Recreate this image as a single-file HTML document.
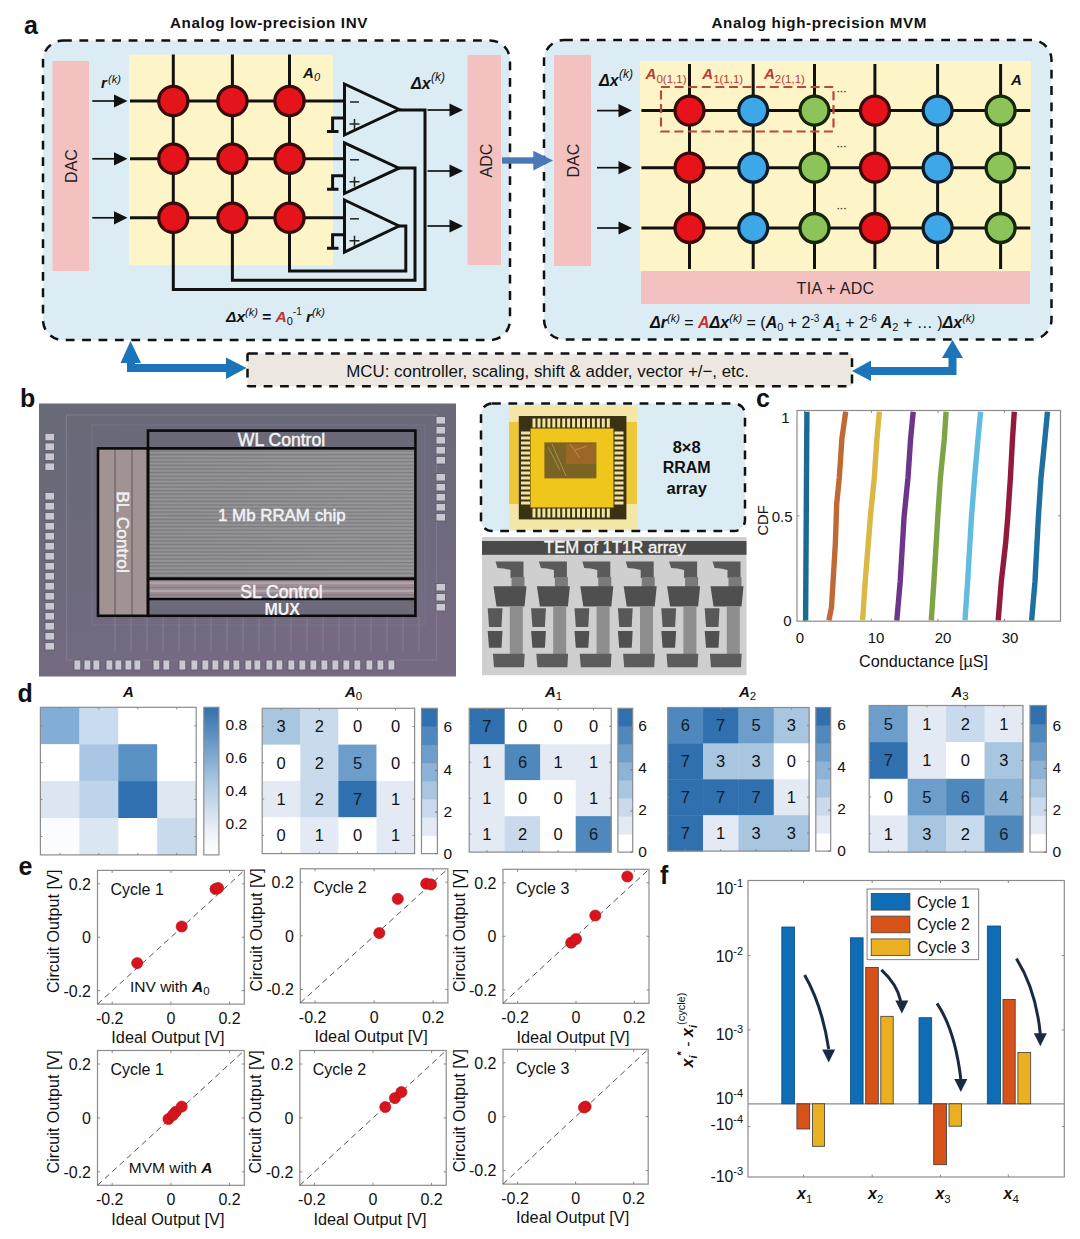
<!DOCTYPE html>
<html><head><meta charset="utf-8"><style>
html,body{margin:0;padding:0;background:#fff;width:1080px;height:1239px;overflow:hidden}
svg{display:block}
text{font-family:"Liberation Sans", sans-serif}
</style></head><body>
<svg width="1080" height="1239" viewBox="0 0 1080 1239">
<rect width="1080" height="1239" fill="#fff"/>
<text x="24" y="34" font-size="25" font-weight="bold" font-style="normal" fill="#111" text-anchor="start" >a</text>
<text x="170" y="28" font-size="15.2" font-weight="bold" font-style="normal" fill="#111" text-anchor="start" letter-spacing="0.62">Analog low-precision INV</text>
<text x="711.5" y="28" font-size="15.2" font-weight="bold" font-style="normal" fill="#111" text-anchor="start" letter-spacing="0.62">Analog high-precision MVM</text>
<rect x="43" y="40.5" width="467" height="299.5" rx="20" fill="#dcecf4" stroke="#111" stroke-width="2.5" stroke-dasharray="8.8 7.6"/>
<rect x="52.5" y="61" width="36.5" height="210" fill="#f4c1c1"/>
<text x="0" y="0" font-size="16" font-weight="normal" font-style="normal" fill="#222" text-anchor="middle" transform="translate(76.5,166) rotate(-90)">DAC</text>
<rect x="129" y="54.6" width="204" height="210.7" fill="#fdf5c8"/>
<rect x="467.5" y="55" width="33.5" height="210" fill="#f4c1c1"/>
<text x="0" y="0" font-size="16" font-weight="normal" font-style="normal" fill="#222" text-anchor="middle" transform="translate(491.5,160.6) rotate(-90)">ADC</text>
<line x1="130" y1="101" x2="345" y2="101" stroke="#111" stroke-width="3"/>
<line x1="130" y1="158.8" x2="345" y2="158.8" stroke="#111" stroke-width="3"/>
<line x1="130" y1="217.8" x2="345" y2="217.8" stroke="#111" stroke-width="3"/>
<polyline points="173.3,54.6 173.3,289.6 425,289.6 425,110 399,110" fill="none" stroke="#111" stroke-width="3"/>
<polyline points="232.4,54.6 232.4,280.3 415,280.3 415,168 399,168" fill="none" stroke="#111" stroke-width="3"/>
<polyline points="289.5,54.6 289.5,271 405.8,271 405.8,226 399,226" fill="none" stroke="#111" stroke-width="3"/>
<circle cx="173.3" cy="101" r="14.6" fill="#e5141b" stroke="#3a0a0a" stroke-width="3.3"/>
<circle cx="232.4" cy="101" r="14.6" fill="#e5141b" stroke="#3a0a0a" stroke-width="3.3"/>
<circle cx="289.5" cy="101" r="14.6" fill="#e5141b" stroke="#3a0a0a" stroke-width="3.3"/>
<circle cx="173.3" cy="158.8" r="14.6" fill="#e5141b" stroke="#3a0a0a" stroke-width="3.3"/>
<circle cx="232.4" cy="158.8" r="14.6" fill="#e5141b" stroke="#3a0a0a" stroke-width="3.3"/>
<circle cx="289.5" cy="158.8" r="14.6" fill="#e5141b" stroke="#3a0a0a" stroke-width="3.3"/>
<circle cx="173.3" cy="217.8" r="14.6" fill="#e5141b" stroke="#3a0a0a" stroke-width="3.3"/>
<circle cx="232.4" cy="217.8" r="14.6" fill="#e5141b" stroke="#3a0a0a" stroke-width="3.3"/>
<circle cx="289.5" cy="217.8" r="14.6" fill="#e5141b" stroke="#3a0a0a" stroke-width="3.3"/>
<polygon points="344.5,84 399,109.5 344.5,135" fill="none" stroke="#111" stroke-width="3" stroke-linejoin="miter"/>
<path d="M344.5,118 H332.6 V131.5 M327,131.5 H338.5" fill="none" stroke="#111" stroke-width="3"/>
<line x1="350" y1="102" x2="359" y2="102" stroke="#222" stroke-width="1.5"/>
<path d="M349.5,124 h10 M354.5,119 v10" stroke="#222" stroke-width="1.5"/>
<polygon points="344.5,142.8 399,168.15 344.5,193.5" fill="none" stroke="#111" stroke-width="3" stroke-linejoin="miter"/>
<path d="M344.5,175.8 H332.6 V189.3 M327,189.3 H338.5" fill="none" stroke="#111" stroke-width="3"/>
<line x1="350" y1="159.8" x2="359" y2="159.8" stroke="#222" stroke-width="1.5"/>
<path d="M349.5,181.8 h10 M354.5,176.8 v10" stroke="#222" stroke-width="1.5"/>
<polygon points="344.5,200 399,226.0 344.5,252" fill="none" stroke="#111" stroke-width="3" stroke-linejoin="miter"/>
<path d="M344.5,234.8 H332.6 V248.3 M327,248.3 H338.5" fill="none" stroke="#111" stroke-width="3"/>
<line x1="350" y1="218.8" x2="359" y2="218.8" stroke="#222" stroke-width="1.5"/>
<path d="M349.5,240.8 h10 M354.5,235.8 v10" stroke="#222" stroke-width="1.5"/>
<line x1="92.3" y1="101" x2="116.0" y2="101" stroke="#111" stroke-width="1.7"/><polygon points="114.0,94.4 127.5,101 114.0,107.6" fill="#111"/>
<line x1="92.3" y1="158.8" x2="116.0" y2="158.8" stroke="#111" stroke-width="1.7"/><polygon points="114.0,152.20000000000002 127.5,158.8 114.0,165.4" fill="#111"/>
<line x1="92.3" y1="217.8" x2="116.0" y2="217.8" stroke="#111" stroke-width="1.7"/><polygon points="114.0,211.20000000000002 127.5,217.8 114.0,224.4" fill="#111"/>
<line x1="427.5" y1="110" x2="451.5" y2="110" stroke="#111" stroke-width="1.7"/><polygon points="449.5,103.4 463,110 449.5,116.6" fill="#111"/>
<line x1="427.5" y1="171" x2="451.5" y2="171" stroke="#111" stroke-width="1.7"/><polygon points="449.5,164.4 463,171 449.5,177.6" fill="#111"/>
<line x1="427.5" y1="226" x2="451.5" y2="226" stroke="#111" stroke-width="1.7"/><polygon points="449.5,219.4 463,226 449.5,232.6" fill="#111"/>
<text x="101" y="88.2" font-size="15" font-weight="bold" font-style="italic" fill="#111" text-anchor="start" >r</text><text x="108" y="83" font-size="11" font-weight="normal" font-style="italic" fill="#111" text-anchor="start" >(k)</text>
<text x="303" y="78.2" font-size="15" font-weight="bold" font-style="italic" fill="#111" text-anchor="start" >A</text><text x="314" y="81" font-size="11" font-weight="normal" font-style="italic" fill="#111" text-anchor="start" >0</text>
<text x="411" y="89" font-size="16" font-weight="bold" font-style="italic" fill="#111" text-anchor="start" >Δx</text><text x="431" y="81" font-size="12" font-weight="normal" font-style="italic" fill="#111" text-anchor="start" >(k)</text>
<text x="226" y="321.7" font-size="15.5" fill="#111"><tspan font-weight="bold" font-style="italic">Δx</tspan><tspan font-size="11" dy="-6" font-style="italic">(k)</tspan><tspan dy="6" font-weight="bold"> = </tspan><tspan font-weight="bold" font-style="italic" fill="#c83030">A</tspan><tspan font-size="11" dy="3">0</tspan><tspan font-size="10" dy="-10">-1</tspan><tspan dy="7" font-weight="bold" font-style="italic"> r</tspan><tspan font-size="11" dy="-6" font-style="italic">(k)</tspan></text>
<rect x="544" y="40" width="507.5" height="299.5" rx="20" fill="#dcecf4" stroke="#111" stroke-width="2.5" stroke-dasharray="8.8 7.6"/>
<rect x="554" y="55" width="37" height="211" fill="#f4c1c1"/>
<text x="0" y="0" font-size="16" font-weight="normal" font-style="normal" fill="#222" text-anchor="middle" transform="translate(578.5,160.6) rotate(-90)">DAC</text>
<rect x="640" y="61" width="391" height="210" fill="#fdf5c8"/>
<rect x="641" y="271" width="389" height="33" fill="#f4c1c1"/>
<text x="835.5" y="294.2" font-size="16" font-weight="normal" font-style="normal" fill="#222" text-anchor="middle" letter-spacing="0.3">TIA + ADC</text>
<line x1="641.4" y1="110.6" x2="1030.2" y2="110.6" stroke="#111" stroke-width="3"/>
<line x1="641.4" y1="167.7" x2="1030.2" y2="167.7" stroke="#111" stroke-width="3"/>
<line x1="641.4" y1="228" x2="1030.2" y2="228" stroke="#111" stroke-width="3"/>
<line x1="689.5" y1="64" x2="689.5" y2="269" stroke="#111" stroke-width="3"/>
<line x1="753.2" y1="64" x2="753.2" y2="269" stroke="#111" stroke-width="3"/>
<line x1="814.5" y1="64" x2="814.5" y2="269" stroke="#111" stroke-width="3"/>
<line x1="874.9" y1="64" x2="874.9" y2="269" stroke="#111" stroke-width="3"/>
<line x1="937.6" y1="64" x2="937.6" y2="269" stroke="#111" stroke-width="3"/>
<line x1="1000.6" y1="64" x2="1000.6" y2="269" stroke="#111" stroke-width="3"/>
<circle cx="689.5" cy="110.6" r="14.5" fill="#e8121b" stroke="#3a0a0a" stroke-width="3.3"/>
<circle cx="753.2" cy="110.6" r="14.5" fill="#3ea7e8" stroke="#0c1c2a" stroke-width="3.3"/>
<circle cx="814.5" cy="110.6" r="14.5" fill="#8cc45a" stroke="#15260c" stroke-width="3.3"/>
<circle cx="874.9" cy="110.6" r="14.5" fill="#e8121b" stroke="#3a0a0a" stroke-width="3.3"/>
<circle cx="937.6" cy="110.6" r="14.5" fill="#3ea7e8" stroke="#0c1c2a" stroke-width="3.3"/>
<circle cx="1000.6" cy="110.6" r="14.5" fill="#8cc45a" stroke="#15260c" stroke-width="3.3"/>
<circle cx="689.5" cy="167.7" r="14.5" fill="#e8121b" stroke="#3a0a0a" stroke-width="3.3"/>
<circle cx="753.2" cy="167.7" r="14.5" fill="#3ea7e8" stroke="#0c1c2a" stroke-width="3.3"/>
<circle cx="814.5" cy="167.7" r="14.5" fill="#8cc45a" stroke="#15260c" stroke-width="3.3"/>
<circle cx="874.9" cy="167.7" r="14.5" fill="#e8121b" stroke="#3a0a0a" stroke-width="3.3"/>
<circle cx="937.6" cy="167.7" r="14.5" fill="#3ea7e8" stroke="#0c1c2a" stroke-width="3.3"/>
<circle cx="1000.6" cy="167.7" r="14.5" fill="#8cc45a" stroke="#15260c" stroke-width="3.3"/>
<circle cx="689.5" cy="228" r="14.5" fill="#e8121b" stroke="#3a0a0a" stroke-width="3.3"/>
<circle cx="753.2" cy="228" r="14.5" fill="#3ea7e8" stroke="#0c1c2a" stroke-width="3.3"/>
<circle cx="814.5" cy="228" r="14.5" fill="#8cc45a" stroke="#15260c" stroke-width="3.3"/>
<circle cx="874.9" cy="228" r="14.5" fill="#e8121b" stroke="#3a0a0a" stroke-width="3.3"/>
<circle cx="937.6" cy="228" r="14.5" fill="#3ea7e8" stroke="#0c1c2a" stroke-width="3.3"/>
<circle cx="1000.6" cy="228" r="14.5" fill="#8cc45a" stroke="#15260c" stroke-width="3.3"/>
<line x1="597" y1="110.6" x2="620.5" y2="110.6" stroke="#111" stroke-width="1.7"/><polygon points="618.5,104.0 632,110.6 618.5,117.19999999999999" fill="#111"/>
<line x1="597" y1="167.7" x2="620.5" y2="167.7" stroke="#111" stroke-width="1.7"/><polygon points="618.5,161.1 632,167.7 618.5,174.29999999999998" fill="#111"/>
<line x1="597" y1="228" x2="620.5" y2="228" stroke="#111" stroke-width="1.7"/><polygon points="618.5,221.4 632,228 618.5,234.6" fill="#111"/>
<rect x="661" y="87" width="172.5" height="44.5" fill="none" stroke="#b84a3c" stroke-width="2.2" stroke-dasharray="9 4.6"/>
<text x="645.6" y="79" font-size="15" fill="#b83a30"><tspan font-weight="bold" font-style="italic">A</tspan><tspan font-size="11.5" dy="4">0(1,1)</tspan></text>
<text x="702.3" y="79" font-size="15" fill="#b83a30"><tspan font-weight="bold" font-style="italic">A</tspan><tspan font-size="11.5" dy="4">1(1,1)</tspan></text>
<text x="764" y="79" font-size="15" fill="#b83a30"><tspan font-weight="bold" font-style="italic">A</tspan><tspan font-size="11.5" dy="4">2(1,1)</tspan></text>
<text x="841" y="94.7" font-size="13" font-weight="normal" font-style="normal" fill="#222" text-anchor="middle" letter-spacing="-1">···</text>
<text x="841" y="150" font-size="13" font-weight="normal" font-style="normal" fill="#222" text-anchor="middle" letter-spacing="-1">···</text>
<text x="841" y="211.6" font-size="13" font-weight="normal" font-style="normal" fill="#222" text-anchor="middle" letter-spacing="-1">···</text>
<text x="1011" y="84.7" font-size="15" font-weight="bold" font-style="italic" fill="#111" text-anchor="start" >A</text>
<text x="599" y="86" font-size="16" font-weight="bold" font-style="italic" fill="#111" text-anchor="start" >Δx</text><text x="619" y="78" font-size="12" font-weight="normal" font-style="italic" fill="#111" text-anchor="start" >(k)</text>
<text x="650" y="327.5" font-size="16" fill="#111"><tspan font-weight="bold" font-style="italic">Δr</tspan><tspan font-size="11" dy="-6" font-style="italic">(k)</tspan><tspan dy="6"> = </tspan><tspan font-weight="bold" font-style="italic" fill="#c83030">A</tspan><tspan font-weight="bold" font-style="italic">Δx</tspan><tspan font-size="11" dy="-6" font-style="italic">(k)</tspan><tspan dy="6"> = (</tspan><tspan font-weight="bold" font-style="italic">A</tspan><tspan font-size="11" dy="3">0</tspan><tspan dy="-3"> + 2</tspan><tspan font-size="10" dy="-6">-3</tspan><tspan dy="6" font-weight="bold" font-style="italic"> A</tspan><tspan font-size="11" dy="3">1</tspan><tspan dy="-3"> + 2</tspan><tspan font-size="10" dy="-6">-6</tspan><tspan dy="6" font-weight="bold" font-style="italic"> A</tspan><tspan font-size="11" dy="3">2</tspan><tspan dy="-3"> + … )</tspan><tspan font-weight="bold" font-style="italic">Δx</tspan><tspan font-size="11" dy="-6" font-style="italic">(k)</tspan></text>
<rect x="247.5" y="353.5" width="604.5" height="32.8" rx="1.5" fill="#ece8e1" stroke="#111" stroke-width="2.5" stroke-dasharray="8.8 7.6"/>
<text x="346.2" y="376.6" font-size="16.9" font-weight="normal" font-style="normal" fill="#111" text-anchor="start" >MCU: controller, scaling, shift &amp; adder, vector +/−, etc.</text>
<rect x="502" y="157.3" width="32" height="6.4" fill="#4a78b8"/><polygon points="533.3,150.7 553,160.4 533.3,170.4" fill="#4a78b8"/>
<path d="M131,362 V368 H227" fill="none" stroke="#1c74b9" stroke-width="8"/>
<polygon points="120.5,363 141,363 130.5,341" fill="#1c74b9"/>
<polygon points="226,357.5 246.5,368 226,379" fill="#1c74b9"/>
<path d="M952.5,357 V371 H870" fill="none" stroke="#1c74b9" stroke-width="8"/>
<polygon points="942,358 963,358 952.5,340" fill="#1c74b9"/>
<polygon points="871,360.5 852,371 871,381" fill="#1c74b9"/>
<text x="20" y="407" font-size="25" font-weight="bold" font-style="normal" fill="#111" text-anchor="start" >b</text>
<defs><linearGradient id="chipg" x1="0" y1="0" x2="0.3" y2="1"><stop offset="0" stop-color="#686a78"/><stop offset="0.6" stop-color="#6d6a7c"/><stop offset="1" stop-color="#766a82"/></linearGradient><linearGradient id="maing" x1="0" y1="0" x2="1" y2="0"><stop offset="0" stop-color="#8a8a8e"/><stop offset="1" stop-color="#929296"/></linearGradient></defs>
<rect x="39" y="403.5" width="417" height="273" fill="url(#chipg)"/>
<rect x="66.5" y="415" width="370" height="245" fill="none" stroke="#7c7a8c" stroke-width="1.2"/>
<rect x="92" y="425" width="333" height="200" fill="none" stroke="#77758a" stroke-width="1"/>
<rect x="45" y="433.3" width="9.5" height="7.5" fill="#c9c7d0" stroke="#5a5868" stroke-width="0.8"/>
<rect x="45" y="443.0" width="9.5" height="7.5" fill="#c9c7d0" stroke="#5a5868" stroke-width="0.8"/>
<rect x="45" y="453.0" width="9.5" height="7.5" fill="#c9c7d0" stroke="#5a5868" stroke-width="0.8"/>
<rect x="45" y="463.0" width="9.5" height="7.5" fill="#c9c7d0" stroke="#5a5868" stroke-width="0.8"/>
<rect x="45" y="492.5" width="9.5" height="7.5" fill="#c9c7d0" stroke="#5a5868" stroke-width="0.8"/>
<rect x="45" y="502.5" width="9.5" height="7.5" fill="#c9c7d0" stroke="#5a5868" stroke-width="0.8"/>
<rect x="45" y="512.5" width="9.5" height="7.5" fill="#c9c7d0" stroke="#5a5868" stroke-width="0.8"/>
<rect x="45" y="522.5" width="9.5" height="7.5" fill="#c9c7d0" stroke="#5a5868" stroke-width="0.8"/>
<rect x="45" y="532.5" width="9.5" height="7.5" fill="#c9c7d0" stroke="#5a5868" stroke-width="0.8"/>
<rect x="45" y="542.5" width="9.5" height="7.5" fill="#c9c7d0" stroke="#5a5868" stroke-width="0.8"/>
<rect x="45" y="552.5" width="9.5" height="7.5" fill="#c9c7d0" stroke="#5a5868" stroke-width="0.8"/>
<rect x="45" y="562.5" width="9.5" height="7.5" fill="#c9c7d0" stroke="#5a5868" stroke-width="0.8"/>
<rect x="45" y="572.5" width="9.5" height="7.5" fill="#c9c7d0" stroke="#5a5868" stroke-width="0.8"/>
<rect x="45" y="582.5" width="9.5" height="7.5" fill="#c9c7d0" stroke="#5a5868" stroke-width="0.8"/>
<rect x="45" y="592.5" width="9.5" height="7.5" fill="#c9c7d0" stroke="#5a5868" stroke-width="0.8"/>
<rect x="45" y="602.5" width="9.5" height="7.5" fill="#c9c7d0" stroke="#5a5868" stroke-width="0.8"/>
<rect x="45" y="612.5" width="9.5" height="7.5" fill="#c9c7d0" stroke="#5a5868" stroke-width="0.8"/>
<rect x="45" y="622.5" width="9.5" height="7.5" fill="#c9c7d0" stroke="#5a5868" stroke-width="0.8"/>
<rect x="45" y="632.5" width="9.5" height="7.5" fill="#c9c7d0" stroke="#5a5868" stroke-width="0.8"/>
<rect x="45" y="642.5" width="9.5" height="7.5" fill="#c9c7d0" stroke="#5a5868" stroke-width="0.8"/>
<rect x="436" y="416.5" width="9.5" height="7.5" fill="#c9c7d0" stroke="#5a5868" stroke-width="0.8"/>
<rect x="436" y="426.5" width="9.5" height="7.5" fill="#c9c7d0" stroke="#5a5868" stroke-width="0.8"/>
<rect x="436" y="436.5" width="9.5" height="7.5" fill="#c9c7d0" stroke="#5a5868" stroke-width="0.8"/>
<rect x="436" y="446.5" width="9.5" height="7.5" fill="#c9c7d0" stroke="#5a5868" stroke-width="0.8"/>
<rect x="436" y="456.5" width="9.5" height="7.5" fill="#c9c7d0" stroke="#5a5868" stroke-width="0.8"/>
<rect x="436" y="473.5" width="9.5" height="7.5" fill="#c9c7d0" stroke="#5a5868" stroke-width="0.8"/>
<rect x="436" y="483.5" width="9.5" height="7.5" fill="#c9c7d0" stroke="#5a5868" stroke-width="0.8"/>
<rect x="436" y="493.5" width="9.5" height="7.5" fill="#c9c7d0" stroke="#5a5868" stroke-width="0.8"/>
<rect x="436" y="503.5" width="9.5" height="7.5" fill="#c9c7d0" stroke="#5a5868" stroke-width="0.8"/>
<rect x="436" y="513.5" width="9.5" height="7.5" fill="#c9c7d0" stroke="#5a5868" stroke-width="0.8"/>
<rect x="436" y="583.5" width="9.5" height="7.5" fill="#c9c7d0" stroke="#5a5868" stroke-width="0.8"/>
<rect x="436" y="593.5" width="9.5" height="7.5" fill="#c9c7d0" stroke="#5a5868" stroke-width="0.8"/>
<rect x="436" y="603.5" width="9.5" height="7.5" fill="#c9c7d0" stroke="#5a5868" stroke-width="0.8"/>
<rect x="74" y="660" width="6.8" height="10" fill="#c9c7d0" stroke="#5a5868" stroke-width="0.8"/>
<rect x="84" y="660" width="6.8" height="10" fill="#c9c7d0" stroke="#5a5868" stroke-width="0.8"/>
<rect x="93" y="660" width="6.8" height="10" fill="#c9c7d0" stroke="#5a5868" stroke-width="0.8"/>
<rect x="106" y="660" width="6.8" height="10" fill="#c9c7d0" stroke="#5a5868" stroke-width="0.8"/>
<rect x="115" y="660" width="6.8" height="10" fill="#c9c7d0" stroke="#5a5868" stroke-width="0.8"/>
<rect x="125" y="660" width="6.8" height="10" fill="#c9c7d0" stroke="#5a5868" stroke-width="0.8"/>
<rect x="134" y="660" width="6.8" height="10" fill="#c9c7d0" stroke="#5a5868" stroke-width="0.8"/>
<rect x="153" y="660" width="6.8" height="10" fill="#c9c7d0" stroke="#5a5868" stroke-width="0.8"/>
<rect x="163" y="660" width="6.8" height="10" fill="#c9c7d0" stroke="#5a5868" stroke-width="0.8"/>
<rect x="179" y="660" width="6.8" height="10" fill="#c9c7d0" stroke="#5a5868" stroke-width="0.8"/>
<rect x="191" y="660" width="6.8" height="10" fill="#c9c7d0" stroke="#5a5868" stroke-width="0.8"/>
<rect x="202" y="660" width="6.8" height="10" fill="#c9c7d0" stroke="#5a5868" stroke-width="0.8"/>
<rect x="212" y="660" width="6.8" height="10" fill="#c9c7d0" stroke="#5a5868" stroke-width="0.8"/>
<rect x="223" y="660" width="6.8" height="10" fill="#c9c7d0" stroke="#5a5868" stroke-width="0.8"/>
<rect x="233" y="660" width="6.8" height="10" fill="#c9c7d0" stroke="#5a5868" stroke-width="0.8"/>
<rect x="245" y="660" width="6.8" height="10" fill="#c9c7d0" stroke="#5a5868" stroke-width="0.8"/>
<rect x="254" y="660" width="6.8" height="10" fill="#c9c7d0" stroke="#5a5868" stroke-width="0.8"/>
<rect x="266" y="660" width="6.8" height="10" fill="#c9c7d0" stroke="#5a5868" stroke-width="0.8"/>
<rect x="276" y="660" width="6.8" height="10" fill="#c9c7d0" stroke="#5a5868" stroke-width="0.8"/>
<rect x="288" y="660" width="6.8" height="10" fill="#c9c7d0" stroke="#5a5868" stroke-width="0.8"/>
<rect x="299" y="660" width="6.8" height="10" fill="#c9c7d0" stroke="#5a5868" stroke-width="0.8"/>
<rect x="310" y="660" width="6.8" height="10" fill="#c9c7d0" stroke="#5a5868" stroke-width="0.8"/>
<rect x="321" y="660" width="6.8" height="10" fill="#c9c7d0" stroke="#5a5868" stroke-width="0.8"/>
<rect x="332" y="660" width="6.8" height="10" fill="#c9c7d0" stroke="#5a5868" stroke-width="0.8"/>
<rect x="343" y="660" width="6.8" height="10" fill="#c9c7d0" stroke="#5a5868" stroke-width="0.8"/>
<rect x="354" y="660" width="6.8" height="10" fill="#c9c7d0" stroke="#5a5868" stroke-width="0.8"/>
<rect x="366" y="660" width="6.8" height="10" fill="#c9c7d0" stroke="#5a5868" stroke-width="0.8"/>
<rect x="377" y="660" width="6.8" height="10" fill="#c9c7d0" stroke="#5a5868" stroke-width="0.8"/>
<rect x="388" y="660" width="6.8" height="10" fill="#c9c7d0" stroke="#5a5868" stroke-width="0.8"/>
<line x1="115" y1="617" x2="115" y2="652" stroke="#8a879a" stroke-width="0.8"/>
<line x1="131" y1="617" x2="131" y2="652" stroke="#8a879a" stroke-width="0.8"/>
<line x1="147" y1="617" x2="147" y2="652" stroke="#8a879a" stroke-width="0.8"/>
<line x1="163" y1="617" x2="163" y2="652" stroke="#8a879a" stroke-width="0.8"/>
<line x1="179" y1="617" x2="179" y2="652" stroke="#8a879a" stroke-width="0.8"/>
<line x1="195" y1="617" x2="195" y2="652" stroke="#8a879a" stroke-width="0.8"/>
<line x1="211" y1="617" x2="211" y2="652" stroke="#8a879a" stroke-width="0.8"/>
<line x1="227" y1="617" x2="227" y2="652" stroke="#8a879a" stroke-width="0.8"/>
<line x1="243" y1="617" x2="243" y2="652" stroke="#8a879a" stroke-width="0.8"/>
<line x1="259" y1="617" x2="259" y2="652" stroke="#8a879a" stroke-width="0.8"/>
<line x1="275" y1="617" x2="275" y2="652" stroke="#8a879a" stroke-width="0.8"/>
<line x1="291" y1="617" x2="291" y2="652" stroke="#8a879a" stroke-width="0.8"/>
<line x1="307" y1="617" x2="307" y2="652" stroke="#8a879a" stroke-width="0.8"/>
<line x1="323" y1="617" x2="323" y2="652" stroke="#8a879a" stroke-width="0.8"/>
<line x1="339" y1="617" x2="339" y2="652" stroke="#8a879a" stroke-width="0.8"/>
<line x1="355" y1="617" x2="355" y2="652" stroke="#8a879a" stroke-width="0.8"/>
<line x1="371" y1="617" x2="371" y2="652" stroke="#8a879a" stroke-width="0.8"/>
<line x1="387" y1="617" x2="387" y2="652" stroke="#8a879a" stroke-width="0.8"/>
<line x1="403" y1="617" x2="403" y2="652" stroke="#8a879a" stroke-width="0.8"/>
<line x1="419" y1="617" x2="419" y2="652" stroke="#8a879a" stroke-width="0.8"/>
<rect x="148" y="430.6" width="267.4" height="17.8" fill="#6a6978"/>
<rect x="148" y="448.4" width="267.4" height="130.3" fill="url(#maing)"/>
<line x1="149" y1="451.0" x2="414" y2="451.0" stroke="#7a7a7e" stroke-width="0.9"/>
<line x1="149" y1="452.8" x2="414" y2="452.8" stroke="#98989b" stroke-width="0.9"/>
<line x1="149" y1="454.6" x2="414" y2="454.6" stroke="#7a7a7e" stroke-width="0.9"/>
<line x1="149" y1="456.4" x2="414" y2="456.4" stroke="#98989b" stroke-width="0.9"/>
<line x1="149" y1="458.2" x2="414" y2="458.2" stroke="#7a7a7e" stroke-width="0.9"/>
<line x1="149" y1="460.0" x2="414" y2="460.0" stroke="#98989b" stroke-width="0.9"/>
<line x1="149" y1="461.8" x2="414" y2="461.8" stroke="#7a7a7e" stroke-width="0.9"/>
<line x1="149" y1="463.6" x2="414" y2="463.6" stroke="#98989b" stroke-width="0.9"/>
<line x1="149" y1="465.4" x2="414" y2="465.4" stroke="#7a7a7e" stroke-width="0.9"/>
<line x1="149" y1="467.2" x2="414" y2="467.2" stroke="#98989b" stroke-width="0.9"/>
<line x1="149" y1="469.0" x2="414" y2="469.0" stroke="#7a7a7e" stroke-width="0.9"/>
<line x1="149" y1="470.8" x2="414" y2="470.8" stroke="#98989b" stroke-width="0.9"/>
<line x1="149" y1="472.6" x2="414" y2="472.6" stroke="#7a7a7e" stroke-width="0.9"/>
<line x1="149" y1="474.4" x2="414" y2="474.4" stroke="#98989b" stroke-width="0.9"/>
<line x1="149" y1="476.2" x2="414" y2="476.2" stroke="#7a7a7e" stroke-width="0.9"/>
<line x1="149" y1="478.0" x2="414" y2="478.0" stroke="#98989b" stroke-width="0.9"/>
<line x1="149" y1="479.8" x2="414" y2="479.8" stroke="#7a7a7e" stroke-width="0.9"/>
<line x1="149" y1="481.6" x2="414" y2="481.6" stroke="#98989b" stroke-width="0.9"/>
<line x1="149" y1="483.4" x2="414" y2="483.4" stroke="#7a7a7e" stroke-width="0.9"/>
<line x1="149" y1="485.2" x2="414" y2="485.2" stroke="#98989b" stroke-width="0.9"/>
<line x1="149" y1="487.0" x2="414" y2="487.0" stroke="#7a7a7e" stroke-width="0.9"/>
<line x1="149" y1="488.8" x2="414" y2="488.8" stroke="#98989b" stroke-width="0.9"/>
<line x1="149" y1="490.6" x2="414" y2="490.6" stroke="#7a7a7e" stroke-width="0.9"/>
<line x1="149" y1="492.4" x2="414" y2="492.4" stroke="#98989b" stroke-width="0.9"/>
<line x1="149" y1="494.2" x2="414" y2="494.2" stroke="#7a7a7e" stroke-width="0.9"/>
<line x1="149" y1="496.0" x2="414" y2="496.0" stroke="#98989b" stroke-width="0.9"/>
<line x1="149" y1="497.8" x2="414" y2="497.8" stroke="#7a7a7e" stroke-width="0.9"/>
<line x1="149" y1="499.6" x2="414" y2="499.6" stroke="#98989b" stroke-width="0.9"/>
<line x1="149" y1="501.4" x2="414" y2="501.4" stroke="#7a7a7e" stroke-width="0.9"/>
<line x1="149" y1="503.2" x2="414" y2="503.2" stroke="#98989b" stroke-width="0.9"/>
<line x1="149" y1="505.0" x2="414" y2="505.0" stroke="#7a7a7e" stroke-width="0.9"/>
<line x1="149" y1="506.8" x2="414" y2="506.8" stroke="#98989b" stroke-width="0.9"/>
<line x1="149" y1="508.6" x2="414" y2="508.6" stroke="#7a7a7e" stroke-width="0.9"/>
<line x1="149" y1="510.4" x2="414" y2="510.4" stroke="#98989b" stroke-width="0.9"/>
<line x1="149" y1="512.2" x2="414" y2="512.2" stroke="#7a7a7e" stroke-width="0.9"/>
<line x1="149" y1="514.0" x2="414" y2="514.0" stroke="#98989b" stroke-width="0.9"/>
<line x1="149" y1="515.8" x2="414" y2="515.8" stroke="#7a7a7e" stroke-width="0.9"/>
<line x1="149" y1="517.6" x2="414" y2="517.6" stroke="#98989b" stroke-width="0.9"/>
<line x1="149" y1="519.4" x2="414" y2="519.4" stroke="#7a7a7e" stroke-width="0.9"/>
<line x1="149" y1="521.2" x2="414" y2="521.2" stroke="#98989b" stroke-width="0.9"/>
<line x1="149" y1="523.0" x2="414" y2="523.0" stroke="#7a7a7e" stroke-width="0.9"/>
<line x1="149" y1="524.8" x2="414" y2="524.8" stroke="#98989b" stroke-width="0.9"/>
<line x1="149" y1="526.6" x2="414" y2="526.6" stroke="#7a7a7e" stroke-width="0.9"/>
<line x1="149" y1="528.4" x2="414" y2="528.4" stroke="#98989b" stroke-width="0.9"/>
<line x1="149" y1="530.2" x2="414" y2="530.2" stroke="#7a7a7e" stroke-width="0.9"/>
<line x1="149" y1="532.0" x2="414" y2="532.0" stroke="#98989b" stroke-width="0.9"/>
<line x1="149" y1="533.8" x2="414" y2="533.8" stroke="#7a7a7e" stroke-width="0.9"/>
<line x1="149" y1="535.6" x2="414" y2="535.6" stroke="#98989b" stroke-width="0.9"/>
<line x1="149" y1="537.4" x2="414" y2="537.4" stroke="#7a7a7e" stroke-width="0.9"/>
<line x1="149" y1="539.2" x2="414" y2="539.2" stroke="#98989b" stroke-width="0.9"/>
<line x1="149" y1="541.0" x2="414" y2="541.0" stroke="#7a7a7e" stroke-width="0.9"/>
<line x1="149" y1="542.8" x2="414" y2="542.8" stroke="#98989b" stroke-width="0.9"/>
<line x1="149" y1="544.6" x2="414" y2="544.6" stroke="#7a7a7e" stroke-width="0.9"/>
<line x1="149" y1="546.4" x2="414" y2="546.4" stroke="#98989b" stroke-width="0.9"/>
<line x1="149" y1="548.2" x2="414" y2="548.2" stroke="#7a7a7e" stroke-width="0.9"/>
<line x1="149" y1="550.0" x2="414" y2="550.0" stroke="#98989b" stroke-width="0.9"/>
<line x1="149" y1="551.8" x2="414" y2="551.8" stroke="#7a7a7e" stroke-width="0.9"/>
<line x1="149" y1="553.6" x2="414" y2="553.6" stroke="#98989b" stroke-width="0.9"/>
<line x1="149" y1="555.4" x2="414" y2="555.4" stroke="#7a7a7e" stroke-width="0.9"/>
<line x1="149" y1="557.2" x2="414" y2="557.2" stroke="#98989b" stroke-width="0.9"/>
<line x1="149" y1="559.0" x2="414" y2="559.0" stroke="#7a7a7e" stroke-width="0.9"/>
<line x1="149" y1="560.8" x2="414" y2="560.8" stroke="#98989b" stroke-width="0.9"/>
<line x1="149" y1="562.6" x2="414" y2="562.6" stroke="#7a7a7e" stroke-width="0.9"/>
<line x1="149" y1="564.4" x2="414" y2="564.4" stroke="#98989b" stroke-width="0.9"/>
<line x1="149" y1="566.2" x2="414" y2="566.2" stroke="#7a7a7e" stroke-width="0.9"/>
<line x1="149" y1="568.0" x2="414" y2="568.0" stroke="#98989b" stroke-width="0.9"/>
<line x1="149" y1="569.8" x2="414" y2="569.8" stroke="#7a7a7e" stroke-width="0.9"/>
<line x1="149" y1="571.6" x2="414" y2="571.6" stroke="#98989b" stroke-width="0.9"/>
<line x1="149" y1="573.4" x2="414" y2="573.4" stroke="#7a7a7e" stroke-width="0.9"/>
<line x1="149" y1="575.2" x2="414" y2="575.2" stroke="#98989b" stroke-width="0.9"/>
<line x1="149" y1="577.0" x2="414" y2="577.0" stroke="#7a7a7e" stroke-width="0.9"/>
<rect x="148" y="578.7" width="267.4" height="20.3" fill="#9c8f96"/>
<line x1="149" y1="583" x2="414" y2="583" stroke="#b8a8ae" stroke-width="1.6"/>
<line x1="149" y1="587.5" x2="414" y2="587.5" stroke="#8a7c84" stroke-width="1.6"/>
<line x1="149" y1="591" x2="414" y2="591" stroke="#bdaeb3" stroke-width="1.6"/>
<line x1="149" y1="595" x2="414" y2="595" stroke="#857880" stroke-width="1.6"/>
<rect x="148" y="599" width="267.4" height="16.8" fill="#6c6a7b"/>
<rect x="98" y="448.4" width="50" height="167.4" fill="#a19294"/>
<line x1="115" y1="449" x2="115" y2="615" stroke="#6e6468" stroke-width="1.3"/>
<line x1="132" y1="449" x2="132" y2="615" stroke="#6e6468" stroke-width="1.3"/>
<rect x="148" y="430.6" width="267.4" height="185.2" stroke="#0b0b0b" stroke-width="2.6" fill="none"/>
<line x1="148" y1="448.4" x2="415.4" y2="448.4" stroke="#0b0b0b" stroke-width="2.6"/>
<line x1="148" y1="578.7" x2="415.4" y2="578.7" stroke="#0b0b0b" stroke-width="3"/>
<line x1="148" y1="599" x2="415.4" y2="599" stroke="#0b0b0b" stroke-width="2.6"/>
<rect x="98" y="448.4" width="50" height="167.4" stroke="#0b0b0b" stroke-width="2.6" fill="none"/>
<text x="281.5" y="445.8" font-size="17.6" font-weight="normal" font-style="normal" fill="#f2f2f4" text-anchor="middle" stroke="#f2f2f4" stroke-width="0.5">WL Control</text>
<text x="281.8" y="521.3" font-size="16.9" font-weight="normal" font-style="normal" fill="#f2f2f4" text-anchor="middle" stroke="#f2f2f4" stroke-width="0.5">1 Mb RRAM chip</text>
<text x="281.5" y="597.8" font-size="17.6" font-weight="normal" font-style="normal" fill="#f2f2f4" text-anchor="middle" stroke="#f2f2f4" stroke-width="0.5">SL Control</text>
<text x="282.2" y="615.4" font-size="16" font-weight="bold" font-style="normal" fill="#f2f2f4" text-anchor="middle" >MUX</text>
<text x="0" y="0" font-size="17.4" font-weight="normal" font-style="normal" fill="#f2f2f4" text-anchor="middle" stroke="#f2f2f4" stroke-width="0.5" transform="translate(116.6,532) rotate(90)">BL Control</text>
<rect x="481" y="403.5" width="264" height="127.5" rx="11" fill="#dcecf4" stroke="#111" stroke-width="2.5" stroke-dasharray="8.8 7.6"/>
<rect x="509" y="406" width="128" height="123" fill="#f3e6a6"/>
<rect x="509" y="422" width="128" height="82" fill="#efc83a"/>
<rect x="518.8" y="416" width="107.6" height="103.4" fill="#3a3212"/>
<rect x="530.5" y="428.5" width="83" height="79" fill="#f0c61c"/>
<rect x="532.5" y="418.5" width="3" height="9" fill="#f1e3a0"/>
<rect x="532.5" y="508.5" width="3" height="9" fill="#f1e3a0"/>
<rect x="537.5" y="418.5" width="3" height="9" fill="#f1e3a0"/>
<rect x="537.5" y="508.5" width="3" height="9" fill="#f1e3a0"/>
<rect x="542.4" y="418.5" width="3" height="9" fill="#f1e3a0"/>
<rect x="542.4" y="508.5" width="3" height="9" fill="#f1e3a0"/>
<rect x="547.4" y="418.5" width="3" height="9" fill="#f1e3a0"/>
<rect x="547.4" y="508.5" width="3" height="9" fill="#f1e3a0"/>
<rect x="552.3" y="418.5" width="3" height="9" fill="#f1e3a0"/>
<rect x="552.3" y="508.5" width="3" height="9" fill="#f1e3a0"/>
<rect x="557.2" y="418.5" width="3" height="9" fill="#f1e3a0"/>
<rect x="557.2" y="508.5" width="3" height="9" fill="#f1e3a0"/>
<rect x="562.2" y="418.5" width="3" height="9" fill="#f1e3a0"/>
<rect x="562.2" y="508.5" width="3" height="9" fill="#f1e3a0"/>
<rect x="567.1" y="418.5" width="3" height="9" fill="#f1e3a0"/>
<rect x="567.1" y="508.5" width="3" height="9" fill="#f1e3a0"/>
<rect x="572.1" y="418.5" width="3" height="9" fill="#f1e3a0"/>
<rect x="572.1" y="508.5" width="3" height="9" fill="#f1e3a0"/>
<rect x="577.0" y="418.5" width="3" height="9" fill="#f1e3a0"/>
<rect x="577.0" y="508.5" width="3" height="9" fill="#f1e3a0"/>
<rect x="582.0" y="418.5" width="3" height="9" fill="#f1e3a0"/>
<rect x="582.0" y="508.5" width="3" height="9" fill="#f1e3a0"/>
<rect x="587.0" y="418.5" width="3" height="9" fill="#f1e3a0"/>
<rect x="587.0" y="508.5" width="3" height="9" fill="#f1e3a0"/>
<rect x="591.9" y="418.5" width="3" height="9" fill="#f1e3a0"/>
<rect x="591.9" y="508.5" width="3" height="9" fill="#f1e3a0"/>
<rect x="596.9" y="418.5" width="3" height="9" fill="#f1e3a0"/>
<rect x="596.9" y="508.5" width="3" height="9" fill="#f1e3a0"/>
<rect x="601.8" y="418.5" width="3" height="9" fill="#f1e3a0"/>
<rect x="601.8" y="508.5" width="3" height="9" fill="#f1e3a0"/>
<rect x="606.8" y="418.5" width="3" height="9" fill="#f1e3a0"/>
<rect x="606.8" y="508.5" width="3" height="9" fill="#f1e3a0"/>
<rect x="521" y="431.5" width="9" height="3" fill="#f1e3a0"/>
<rect x="614.5" y="431.5" width="9" height="3" fill="#f1e3a0"/>
<rect x="521" y="436.5" width="9" height="3" fill="#f1e3a0"/>
<rect x="614.5" y="436.5" width="9" height="3" fill="#f1e3a0"/>
<rect x="521" y="441.5" width="9" height="3" fill="#f1e3a0"/>
<rect x="614.5" y="441.5" width="9" height="3" fill="#f1e3a0"/>
<rect x="521" y="446.5" width="9" height="3" fill="#f1e3a0"/>
<rect x="614.5" y="446.5" width="9" height="3" fill="#f1e3a0"/>
<rect x="521" y="451.5" width="9" height="3" fill="#f1e3a0"/>
<rect x="614.5" y="451.5" width="9" height="3" fill="#f1e3a0"/>
<rect x="521" y="456.5" width="9" height="3" fill="#f1e3a0"/>
<rect x="614.5" y="456.5" width="9" height="3" fill="#f1e3a0"/>
<rect x="521" y="461.5" width="9" height="3" fill="#f1e3a0"/>
<rect x="614.5" y="461.5" width="9" height="3" fill="#f1e3a0"/>
<rect x="521" y="466.5" width="9" height="3" fill="#f1e3a0"/>
<rect x="614.5" y="466.5" width="9" height="3" fill="#f1e3a0"/>
<rect x="521" y="471.5" width="9" height="3" fill="#f1e3a0"/>
<rect x="614.5" y="471.5" width="9" height="3" fill="#f1e3a0"/>
<rect x="521" y="476.5" width="9" height="3" fill="#f1e3a0"/>
<rect x="614.5" y="476.5" width="9" height="3" fill="#f1e3a0"/>
<rect x="521" y="481.5" width="9" height="3" fill="#f1e3a0"/>
<rect x="614.5" y="481.5" width="9" height="3" fill="#f1e3a0"/>
<rect x="521" y="486.5" width="9" height="3" fill="#f1e3a0"/>
<rect x="614.5" y="486.5" width="9" height="3" fill="#f1e3a0"/>
<rect x="521" y="491.5" width="9" height="3" fill="#f1e3a0"/>
<rect x="614.5" y="491.5" width="9" height="3" fill="#f1e3a0"/>
<rect x="521" y="496.5" width="9" height="3" fill="#f1e3a0"/>
<rect x="614.5" y="496.5" width="9" height="3" fill="#f1e3a0"/>
<rect x="521" y="501.5" width="9" height="3" fill="#f1e3a0"/>
<rect x="614.5" y="501.5" width="9" height="3" fill="#f1e3a0"/>
<rect x="544.4" y="442.4" width="52" height="36" fill="#7a6424"/>
<rect x="566" y="444" width="30" height="20" fill="#b86a28" opacity="0.55"/>
<path d="M548,447 L560,470 M552,444 L566,476 M570,444 l10,14 M575,450 l12,-4" stroke="#c9b070" stroke-width="0.8" opacity="0.7"/>
<text x="686.7" y="452.5" font-size="16.5" font-weight="bold" font-style="normal" fill="#111" text-anchor="middle" >8×8</text>
<text x="686.7" y="473" font-size="16" font-weight="bold" font-style="normal" fill="#111" text-anchor="middle" >RRAM</text>
<text x="686.7" y="493.5" font-size="16.5" font-weight="bold" font-style="normal" fill="#111" text-anchor="middle" >array</text>
<rect x="482" y="537" width="264.5" height="138.2" fill="#cfcfcf"/>
<rect x="482" y="541" width="264.5" height="13.8" fill="#4a4a4a"/>

<path d="M495.5,561.6 H523.5 V578 H510.5 V570 Q503.5,568 497.5,568 Z" fill="#5a5a5a"/>
<rect x="511.5" y="577" width="13" height="10" fill="#7a7a7a"/>
<polygon points="493.5,586.3 526.5,586.3 524.5,606.4 496.5,606.4" fill="#4f4f4f"/>
<polygon points="487.7,608.3 502.5,608.3 501.5,627 489.0,627" fill="#585858"/>
<polygon points="487.7,631 502.5,631 501.5,647.8 489.0,647.8" fill="#505050"/>
<rect x="509.8" y="606" width="13" height="50" fill="#8e8e8e"/>
<polygon points="492.9,653.7 524.7,653.7 524.0,667.3 494.0,667.3" fill="#5c5c5c"/>
<path d="M538.9,561.6 H566.9 V578 H553.9 V570 Q546.9,568 540.9,568 Z" fill="#5a5a5a"/>
<rect x="554.9" y="577" width="13" height="10" fill="#7a7a7a"/>
<polygon points="536.9,586.3 569.9,586.3 567.9,606.4 539.9,606.4" fill="#4f4f4f"/>
<polygon points="531.1,608.3 545.9,608.3 544.9,627 532.4,627" fill="#585858"/>
<polygon points="531.1,631 545.9,631 544.9,647.8 532.4,647.8" fill="#505050"/>
<rect x="553.1999999999999" y="606" width="13" height="50" fill="#8e8e8e"/>
<polygon points="536.3,653.7 568.1,653.7 567.4,667.3 537.4,667.3" fill="#5c5c5c"/>
<path d="M582.3,561.6 H610.3 V578 H597.3 V570 Q590.3,568 584.3,568 Z" fill="#5a5a5a"/>
<rect x="598.3" y="577" width="13" height="10" fill="#7a7a7a"/>
<polygon points="580.3,586.3 613.3,586.3 611.3,606.4 583.3,606.4" fill="#4f4f4f"/>
<polygon points="574.5,608.3 589.3,608.3 588.3,627 575.8,627" fill="#585858"/>
<polygon points="574.5,631 589.3,631 588.3,647.8 575.8,647.8" fill="#505050"/>
<rect x="596.5999999999999" y="606" width="13" height="50" fill="#8e8e8e"/>
<polygon points="579.6999999999999,653.7 611.5,653.7 610.8,667.3 580.8,667.3" fill="#5c5c5c"/>
<path d="M625.7,561.6 H653.7 V578 H640.7 V570 Q633.7,568 627.7,568 Z" fill="#5a5a5a"/>
<rect x="641.7" y="577" width="13" height="10" fill="#7a7a7a"/>
<polygon points="623.7,586.3 656.7,586.3 654.7,606.4 626.7,606.4" fill="#4f4f4f"/>
<polygon points="617.9000000000001,608.3 632.7,608.3 631.7,627 619.2,627" fill="#585858"/>
<polygon points="617.9000000000001,631 632.7,631 631.7,647.8 619.2,647.8" fill="#505050"/>
<rect x="640.0" y="606" width="13" height="50" fill="#8e8e8e"/>
<polygon points="623.1,653.7 654.9000000000001,653.7 654.2,667.3 624.2,667.3" fill="#5c5c5c"/>
<path d="M669.1,561.6 H697.1 V578 H684.1 V570 Q677.1,568 671.1,568 Z" fill="#5a5a5a"/>
<rect x="685.1" y="577" width="13" height="10" fill="#7a7a7a"/>
<polygon points="667.1,586.3 700.1,586.3 698.1,606.4 670.1,606.4" fill="#4f4f4f"/>
<polygon points="661.3000000000001,608.3 676.1,608.3 675.1,627 662.6,627" fill="#585858"/>
<polygon points="661.3000000000001,631 676.1,631 675.1,647.8 662.6,647.8" fill="#505050"/>
<rect x="683.4" y="606" width="13" height="50" fill="#8e8e8e"/>
<polygon points="666.5,653.7 698.3000000000001,653.7 697.6,667.3 667.6,667.3" fill="#5c5c5c"/>
<path d="M712.5,561.6 H740.5 V578 H727.5 V570 Q720.5,568 714.5,568 Z" fill="#5a5a5a"/>
<rect x="728.5" y="577" width="13" height="10" fill="#7a7a7a"/>
<polygon points="710.5,586.3 743.5,586.3 741.5,606.4 713.5,606.4" fill="#4f4f4f"/>
<polygon points="704.7,608.3 719.5,608.3 718.5,627 706.0,627" fill="#585858"/>
<polygon points="704.7,631 719.5,631 718.5,647.8 706.0,647.8" fill="#505050"/>
<rect x="726.8" y="606" width="13" height="50" fill="#8e8e8e"/>
<polygon points="709.9,653.7 741.7,653.7 741.0,667.3 711.0,667.3" fill="#5c5c5c"/>
<text x="615" y="552.5" font-size="16.7" font-weight="normal" font-style="normal" fill="#f5f5f5" text-anchor="middle" stroke="#f5f5f5" stroke-width="0.4">TEM of 1T1R array</text>
<text x="756" y="406.7" font-size="25" font-weight="bold" font-style="normal" fill="#111" text-anchor="start" >c</text>
<rect x="797" y="410.5" width="263.5" height="210.70000000000005" fill="#fff" stroke="#8c8c8c" stroke-width="1.2"/>
<line x1="804.5" y1="621.2" x2="804.5" y2="618.7" stroke="#8c8c8c" stroke-width="1"/>
<line x1="804.5" y1="410.5" x2="804.5" y2="413.0" stroke="#8c8c8c" stroke-width="1"/>
<line x1="871.4" y1="621.2" x2="871.4" y2="618.7" stroke="#8c8c8c" stroke-width="1"/>
<line x1="871.4" y1="410.5" x2="871.4" y2="413.0" stroke="#8c8c8c" stroke-width="1"/>
<line x1="938" y1="621.2" x2="938" y2="618.7" stroke="#8c8c8c" stroke-width="1"/>
<line x1="938" y1="410.5" x2="938" y2="413.0" stroke="#8c8c8c" stroke-width="1"/>
<line x1="1004.5" y1="621.2" x2="1004.5" y2="618.7" stroke="#8c8c8c" stroke-width="1"/>
<line x1="1004.5" y1="410.5" x2="1004.5" y2="413.0" stroke="#8c8c8c" stroke-width="1"/>
<line x1="797" y1="515.8" x2="799.5" y2="515.8" stroke="#8c8c8c" stroke-width="1"/>
<line x1="1060.5" y1="515.8" x2="1058.0" y2="515.8" stroke="#8c8c8c" stroke-width="1"/>
<polyline points="805.6,620.4 806.9,411.7" fill="none" stroke="#1a6a94" stroke-width="5.4" stroke-linejoin="round"/>
<polyline points="828.9,620.4 831.5,607.4 835.4,542.6 836.7,503.7 839.3,477.8 841.9,438.9 845.7,411.7" fill="none" stroke="#bf6a36" stroke-width="5.4" stroke-linejoin="round"/>
<polyline points="862.6,620.4 865.2,581.5 870.4,516.7 874.3,477.8 876.9,438.9 879.4,411.7" fill="none" stroke="#dbb844" stroke-width="5.4" stroke-linejoin="round"/>
<polyline points="896.8,620.4 900.2,581.5 904.1,516.7 908.0,477.8 910.6,438.9 913.2,411.7" fill="none" stroke="#6c378a" stroke-width="5.4" stroke-linejoin="round"/>
<polyline points="931.3,620.4 933.9,581.5 937.8,516.7 940.4,477.8 944.3,438.9 946.1,411.7" fill="none" stroke="#7ea446" stroke-width="5.4" stroke-linejoin="round"/>
<polyline points="965.0,620.4 967.6,581.5 971.5,516.7 974.6,477.8 978.0,438.9 980.6,411.7" fill="none" stroke="#62bcdf" stroke-width="5.4" stroke-linejoin="round"/>
<polyline points="998.2,620.4 1001.3,581.5 1005.7,542.6 1007.8,516.7 1010.4,477.8 1012.5,438.9 1014.3,411.7" fill="none" stroke="#921a3a" stroke-width="5.4" stroke-linejoin="round"/>
<polyline points="1031.6,620.4 1035.0,581.5 1038.4,516.7 1041.0,477.8 1044.9,438.9 1047.5,411.7" fill="none" stroke="#1d70a0" stroke-width="5.4" stroke-linejoin="round"/>
<text x="789.5" y="422.6" font-size="15" font-weight="normal" font-style="normal" fill="#111" text-anchor="end" >1</text>
<text x="792.5" y="522" font-size="15" font-weight="normal" font-style="normal" fill="#111" text-anchor="end" >0.5</text>
<text x="791.5" y="626" font-size="15" font-weight="normal" font-style="normal" fill="#111" text-anchor="end" >0</text>
<text x="800" y="643.2" font-size="15" font-weight="normal" font-style="normal" fill="#111" text-anchor="middle" >0</text>
<text x="876" y="643.2" font-size="15" font-weight="normal" font-style="normal" fill="#111" text-anchor="middle" >10</text>
<text x="943" y="643.2" font-size="15" font-weight="normal" font-style="normal" fill="#111" text-anchor="middle" >20</text>
<text x="1010" y="643.2" font-size="15" font-weight="normal" font-style="normal" fill="#111" text-anchor="middle" >30</text>
<text x="923.6" y="666.7" font-size="16.2" font-weight="normal" font-style="normal" fill="#111" text-anchor="middle" >Conductance [µS]</text>
<text x="0" y="0" font-size="14.8" font-weight="normal" font-style="normal" fill="#111" text-anchor="middle" transform="translate(767.5,520.4) rotate(-90)">CDF</text>
<text x="17.5" y="701.5" font-size="25" font-weight="bold" font-style="normal" fill="#111" text-anchor="start" >d</text>
<defs><linearGradient id="cbA" x1="0" y1="1" x2="0" y2="0"><stop offset="0" stop-color="#ffffff"/><stop offset="0.15" stop-color="#eef2f8"/><stop offset="0.5" stop-color="#a9c6e1"/><stop offset="1" stop-color="#3170ae"/></linearGradient></defs>
<rect x="40.40" y="707.30" width="39.35" height="37.30" fill="#82aed6"/>
<rect x="79.35" y="707.30" width="39.35" height="37.30" fill="#c9dbee"/>
<rect x="118.30" y="707.30" width="39.35" height="37.30" fill="#ffffff"/>
<rect x="157.25" y="707.30" width="39.35" height="37.30" fill="#ffffff"/>
<rect x="40.40" y="744.20" width="39.35" height="37.30" fill="#ffffff"/>
<rect x="79.35" y="744.20" width="39.35" height="37.30" fill="#a9c7e4"/>
<rect x="118.30" y="744.20" width="39.35" height="37.30" fill="#5b92c6"/>
<rect x="157.25" y="744.20" width="39.35" height="37.30" fill="#ffffff"/>
<rect x="40.40" y="781.10" width="39.35" height="37.30" fill="#dbe6f2"/>
<rect x="79.35" y="781.10" width="39.35" height="37.30" fill="#bed4ea"/>
<rect x="118.30" y="781.10" width="39.35" height="37.30" fill="#3170b0"/>
<rect x="157.25" y="781.10" width="39.35" height="37.30" fill="#dde8f3"/>
<rect x="40.40" y="818.00" width="39.35" height="37.30" fill="#fbfcfe"/>
<rect x="79.35" y="818.00" width="39.35" height="37.30" fill="#dae6f2"/>
<rect x="118.30" y="818.00" width="39.35" height="37.30" fill="#ffffff"/>
<rect x="157.25" y="818.00" width="39.35" height="37.30" fill="#c8daeb"/>
<rect x="40.4" y="707.3" width="155.79999999999998" height="147.60000000000002" fill="none" stroke="#8c8c8c" stroke-width="1.2"/>
<line x1="59.9" y1="854.9" x2="59.9" y2="852.9" stroke="#888" stroke-width="1"/>
<line x1="59.9" y1="707.3" x2="59.9" y2="709.3" stroke="#888" stroke-width="1"/>
<line x1="98.8" y1="854.9" x2="98.8" y2="852.9" stroke="#888" stroke-width="1"/>
<line x1="98.8" y1="707.3" x2="98.8" y2="709.3" stroke="#888" stroke-width="1"/>
<line x1="137.8" y1="854.9" x2="137.8" y2="852.9" stroke="#888" stroke-width="1"/>
<line x1="137.8" y1="707.3" x2="137.8" y2="709.3" stroke="#888" stroke-width="1"/>
<line x1="176.7" y1="854.9" x2="176.7" y2="852.9" stroke="#888" stroke-width="1"/>
<line x1="176.7" y1="707.3" x2="176.7" y2="709.3" stroke="#888" stroke-width="1"/>
<line x1="40.4" y1="725.8" x2="42.4" y2="725.8" stroke="#888" stroke-width="1"/>
<line x1="196.2" y1="725.8" x2="194.2" y2="725.8" stroke="#888" stroke-width="1"/>
<line x1="40.4" y1="762.6" x2="42.4" y2="762.6" stroke="#888" stroke-width="1"/>
<line x1="196.2" y1="762.6" x2="194.2" y2="762.6" stroke="#888" stroke-width="1"/>
<line x1="40.4" y1="799.5" x2="42.4" y2="799.5" stroke="#888" stroke-width="1"/>
<line x1="196.2" y1="799.5" x2="194.2" y2="799.5" stroke="#888" stroke-width="1"/>
<line x1="40.4" y1="836.5" x2="42.4" y2="836.5" stroke="#888" stroke-width="1"/>
<line x1="196.2" y1="836.5" x2="194.2" y2="836.5" stroke="#888" stroke-width="1"/>
<rect x="203.8" y="707.3" width="15.1" height="147.6" fill="url(#cbA)" stroke="#8c8c8c" stroke-width="1.2"/>
<text x="225.6" y="729.5" font-size="15.5" font-weight="normal" font-style="normal" fill="#111" text-anchor="start" >0.8</text>
<text x="225.6" y="762.8" font-size="15.5" font-weight="normal" font-style="normal" fill="#111" text-anchor="start" >0.6</text>
<text x="225.6" y="796.1" font-size="15.5" font-weight="normal" font-style="normal" fill="#111" text-anchor="start" >0.4</text>
<text x="225.6" y="829.4" font-size="15.5" font-weight="normal" font-style="normal" fill="#111" text-anchor="start" >0.2</text>
<text x="128.5" y="696.7" font-size="15" font-weight="bold" font-style="italic" fill="#111" text-anchor="middle" >A</text>
<rect x="262.20" y="708.30" width="38.50" height="36.73" fill="#a9c6e1"/>
<rect x="300.30" y="708.30" width="38.50" height="36.73" fill="#c9daec"/>
<rect x="338.40" y="708.30" width="38.50" height="36.73" fill="#ffffff"/>
<rect x="376.50" y="708.30" width="38.50" height="36.73" fill="#ffffff"/>
<rect x="262.20" y="744.62" width="38.50" height="36.73" fill="#ffffff"/>
<rect x="300.30" y="744.62" width="38.50" height="36.73" fill="#c9daec"/>
<rect x="338.40" y="744.62" width="38.50" height="36.73" fill="#6d9dca"/>
<rect x="376.50" y="744.62" width="38.50" height="36.73" fill="#ffffff"/>
<rect x="262.20" y="780.95" width="38.50" height="36.73" fill="#e3eaf4"/>
<rect x="300.30" y="780.95" width="38.50" height="36.73" fill="#c9daec"/>
<rect x="338.40" y="780.95" width="38.50" height="36.73" fill="#3170ae"/>
<rect x="376.50" y="780.95" width="38.50" height="36.73" fill="#e3eaf4"/>
<rect x="262.20" y="817.27" width="38.50" height="36.73" fill="#ffffff"/>
<rect x="300.30" y="817.27" width="38.50" height="36.73" fill="#e3eaf4"/>
<rect x="338.40" y="817.27" width="38.50" height="36.73" fill="#ffffff"/>
<rect x="376.50" y="817.27" width="38.50" height="36.73" fill="#e3eaf4"/>
<text x="281.2" y="732.3" font-size="16.5" font-weight="normal" font-style="normal" fill="#111" text-anchor="middle" >3</text>
<text x="319.4" y="732.3" font-size="16.5" font-weight="normal" font-style="normal" fill="#111" text-anchor="middle" >2</text>
<text x="357.5" y="732.3" font-size="16.5" font-weight="normal" font-style="normal" fill="#111" text-anchor="middle" >0</text>
<text x="395.6" y="732.3" font-size="16.5" font-weight="normal" font-style="normal" fill="#111" text-anchor="middle" >0</text>
<text x="281.2" y="768.6" font-size="16.5" font-weight="normal" font-style="normal" fill="#111" text-anchor="middle" >0</text>
<text x="319.4" y="768.6" font-size="16.5" font-weight="normal" font-style="normal" fill="#111" text-anchor="middle" >2</text>
<text x="357.5" y="768.6" font-size="16.5" font-weight="normal" font-style="normal" fill="#0f1a2a" text-anchor="middle" >5</text>
<text x="395.6" y="768.6" font-size="16.5" font-weight="normal" font-style="normal" fill="#111" text-anchor="middle" >0</text>
<text x="281.2" y="804.9" font-size="16.5" font-weight="normal" font-style="normal" fill="#111" text-anchor="middle" >1</text>
<text x="319.4" y="804.9" font-size="16.5" font-weight="normal" font-style="normal" fill="#111" text-anchor="middle" >2</text>
<text x="357.5" y="804.9" font-size="16.5" font-weight="normal" font-style="normal" fill="#0f1a2a" text-anchor="middle" >7</text>
<text x="395.6" y="804.9" font-size="16.5" font-weight="normal" font-style="normal" fill="#111" text-anchor="middle" >1</text>
<text x="281.2" y="841.2" font-size="16.5" font-weight="normal" font-style="normal" fill="#111" text-anchor="middle" >0</text>
<text x="319.4" y="841.2" font-size="16.5" font-weight="normal" font-style="normal" fill="#111" text-anchor="middle" >1</text>
<text x="357.5" y="841.2" font-size="16.5" font-weight="normal" font-style="normal" fill="#111" text-anchor="middle" >0</text>
<text x="395.6" y="841.2" font-size="16.5" font-weight="normal" font-style="normal" fill="#111" text-anchor="middle" >1</text>
<rect x="262.2" y="708.3" width="152.40000000000003" height="145.30000000000007" fill="none" stroke="#8c8c8c" stroke-width="1.2"/>
<line x1="281.2" y1="853.6" x2="281.2" y2="851.6" stroke="#888" stroke-width="1"/>
<line x1="281.2" y1="708.3" x2="281.2" y2="710.3" stroke="#888" stroke-width="1"/>
<line x1="319.4" y1="853.6" x2="319.4" y2="851.6" stroke="#888" stroke-width="1"/>
<line x1="319.4" y1="708.3" x2="319.4" y2="710.3" stroke="#888" stroke-width="1"/>
<line x1="357.5" y1="853.6" x2="357.5" y2="851.6" stroke="#888" stroke-width="1"/>
<line x1="357.5" y1="708.3" x2="357.5" y2="710.3" stroke="#888" stroke-width="1"/>
<line x1="395.6" y1="853.6" x2="395.6" y2="851.6" stroke="#888" stroke-width="1"/>
<line x1="395.6" y1="708.3" x2="395.6" y2="710.3" stroke="#888" stroke-width="1"/>
<line x1="262.2" y1="726.5" x2="264.2" y2="726.5" stroke="#888" stroke-width="1"/>
<line x1="414.6" y1="726.5" x2="412.6" y2="726.5" stroke="#888" stroke-width="1"/>
<line x1="262.2" y1="762.8" x2="264.2" y2="762.8" stroke="#888" stroke-width="1"/>
<line x1="414.6" y1="762.8" x2="412.6" y2="762.8" stroke="#888" stroke-width="1"/>
<line x1="262.2" y1="799.1" x2="264.2" y2="799.1" stroke="#888" stroke-width="1"/>
<line x1="414.6" y1="799.1" x2="412.6" y2="799.1" stroke="#888" stroke-width="1"/>
<line x1="262.2" y1="835.4" x2="264.2" y2="835.4" stroke="#888" stroke-width="1"/>
<line x1="414.6" y1="835.4" x2="412.6" y2="835.4" stroke="#888" stroke-width="1"/>
<rect x="421.5" y="835.44" width="15.899999999999977" height="18.56" fill="#ffffff"/>
<rect x="421.5" y="817.27" width="15.899999999999977" height="18.56" fill="#e3eaf4"/>
<rect x="421.5" y="799.11" width="15.899999999999977" height="18.56" fill="#c9daec"/>
<rect x="421.5" y="780.95" width="15.899999999999977" height="18.56" fill="#a9c6e1"/>
<rect x="421.5" y="762.79" width="15.899999999999977" height="18.56" fill="#8cb2d6"/>
<rect x="421.5" y="744.62" width="15.899999999999977" height="18.56" fill="#6d9dca"/>
<rect x="421.5" y="726.46" width="15.899999999999977" height="18.56" fill="#4f88bd"/>
<rect x="421.5" y="708.30" width="15.899999999999977" height="18.56" fill="#3170ae"/>
<rect x="421.5" y="708.3" width="15.899999999999977" height="145.30000000000007" fill="none" stroke="#8c8c8c" stroke-width="1.2"/>
<line x1="437.4" y1="853.6" x2="434.9" y2="853.6" stroke="#777" stroke-width="1"/>
<text x="443.5" y="858.7" font-size="15.5" font-weight="normal" font-style="normal" fill="#111" text-anchor="start" >0</text>
<line x1="437.4" y1="812.1" x2="434.9" y2="812.1" stroke="#777" stroke-width="1"/>
<text x="443.5" y="816.6" font-size="15.5" font-weight="normal" font-style="normal" fill="#111" text-anchor="start" >2</text>
<line x1="437.4" y1="770.6" x2="434.9" y2="770.6" stroke="#777" stroke-width="1"/>
<text x="443.5" y="774.5" font-size="15.5" font-weight="normal" font-style="normal" fill="#111" text-anchor="start" >4</text>
<line x1="437.4" y1="729.1" x2="434.9" y2="729.1" stroke="#777" stroke-width="1"/>
<text x="443.5" y="732.4" font-size="15.5" font-weight="normal" font-style="normal" fill="#111" text-anchor="start" >6</text>
<text x="345" y="697" font-size="15" fill="#111"><tspan font-weight="bold" font-style="italic">A</tspan><tspan font-size="11.5" dy="3">0</tspan></text>
<rect x="469.20" y="708.30" width="35.90" height="36.35" fill="#3170ae"/>
<rect x="504.70" y="708.30" width="35.90" height="36.35" fill="#ffffff"/>
<rect x="540.20" y="708.30" width="35.90" height="36.35" fill="#ffffff"/>
<rect x="575.70" y="708.30" width="35.90" height="36.35" fill="#ffffff"/>
<rect x="469.20" y="744.25" width="35.90" height="36.35" fill="#e3eaf4"/>
<rect x="504.70" y="744.25" width="35.90" height="36.35" fill="#4f88bd"/>
<rect x="540.20" y="744.25" width="35.90" height="36.35" fill="#e3eaf4"/>
<rect x="575.70" y="744.25" width="35.90" height="36.35" fill="#e3eaf4"/>
<rect x="469.20" y="780.20" width="35.90" height="36.35" fill="#e3eaf4"/>
<rect x="504.70" y="780.20" width="35.90" height="36.35" fill="#ffffff"/>
<rect x="540.20" y="780.20" width="35.90" height="36.35" fill="#ffffff"/>
<rect x="575.70" y="780.20" width="35.90" height="36.35" fill="#e3eaf4"/>
<rect x="469.20" y="816.15" width="35.90" height="36.35" fill="#e3eaf4"/>
<rect x="504.70" y="816.15" width="35.90" height="36.35" fill="#c9daec"/>
<rect x="540.20" y="816.15" width="35.90" height="36.35" fill="#ffffff"/>
<rect x="575.70" y="816.15" width="35.90" height="36.35" fill="#4f88bd"/>
<text x="486.9" y="732.1" font-size="16.5" font-weight="normal" font-style="normal" fill="#0f1a2a" text-anchor="middle" >7</text>
<text x="522.5" y="732.1" font-size="16.5" font-weight="normal" font-style="normal" fill="#111" text-anchor="middle" >0</text>
<text x="558.0" y="732.1" font-size="16.5" font-weight="normal" font-style="normal" fill="#111" text-anchor="middle" >0</text>
<text x="593.5" y="732.1" font-size="16.5" font-weight="normal" font-style="normal" fill="#111" text-anchor="middle" >0</text>
<text x="486.9" y="768.0" font-size="16.5" font-weight="normal" font-style="normal" fill="#111" text-anchor="middle" >1</text>
<text x="522.5" y="768.0" font-size="16.5" font-weight="normal" font-style="normal" fill="#0f1a2a" text-anchor="middle" >6</text>
<text x="558.0" y="768.0" font-size="16.5" font-weight="normal" font-style="normal" fill="#111" text-anchor="middle" >1</text>
<text x="593.5" y="768.0" font-size="16.5" font-weight="normal" font-style="normal" fill="#111" text-anchor="middle" >1</text>
<text x="486.9" y="804.0" font-size="16.5" font-weight="normal" font-style="normal" fill="#111" text-anchor="middle" >1</text>
<text x="522.5" y="804.0" font-size="16.5" font-weight="normal" font-style="normal" fill="#111" text-anchor="middle" >0</text>
<text x="558.0" y="804.0" font-size="16.5" font-weight="normal" font-style="normal" fill="#111" text-anchor="middle" >0</text>
<text x="593.5" y="804.0" font-size="16.5" font-weight="normal" font-style="normal" fill="#111" text-anchor="middle" >1</text>
<text x="486.9" y="839.9" font-size="16.5" font-weight="normal" font-style="normal" fill="#111" text-anchor="middle" >1</text>
<text x="522.5" y="839.9" font-size="16.5" font-weight="normal" font-style="normal" fill="#111" text-anchor="middle" >2</text>
<text x="558.0" y="839.9" font-size="16.5" font-weight="normal" font-style="normal" fill="#111" text-anchor="middle" >0</text>
<text x="593.5" y="839.9" font-size="16.5" font-weight="normal" font-style="normal" fill="#0f1a2a" text-anchor="middle" >6</text>
<rect x="469.2" y="708.3" width="142.00000000000006" height="143.80000000000007" fill="none" stroke="#8c8c8c" stroke-width="1.2"/>
<line x1="486.9" y1="852.1" x2="486.9" y2="850.1" stroke="#888" stroke-width="1"/>
<line x1="486.9" y1="708.3" x2="486.9" y2="710.3" stroke="#888" stroke-width="1"/>
<line x1="522.5" y1="852.1" x2="522.5" y2="850.1" stroke="#888" stroke-width="1"/>
<line x1="522.5" y1="708.3" x2="522.5" y2="710.3" stroke="#888" stroke-width="1"/>
<line x1="558.0" y1="852.1" x2="558.0" y2="850.1" stroke="#888" stroke-width="1"/>
<line x1="558.0" y1="708.3" x2="558.0" y2="710.3" stroke="#888" stroke-width="1"/>
<line x1="593.5" y1="852.1" x2="593.5" y2="850.1" stroke="#888" stroke-width="1"/>
<line x1="593.5" y1="708.3" x2="593.5" y2="710.3" stroke="#888" stroke-width="1"/>
<line x1="469.2" y1="726.3" x2="471.2" y2="726.3" stroke="#888" stroke-width="1"/>
<line x1="611.2" y1="726.3" x2="609.2" y2="726.3" stroke="#888" stroke-width="1"/>
<line x1="469.2" y1="762.2" x2="471.2" y2="762.2" stroke="#888" stroke-width="1"/>
<line x1="611.2" y1="762.2" x2="609.2" y2="762.2" stroke="#888" stroke-width="1"/>
<line x1="469.2" y1="798.2" x2="471.2" y2="798.2" stroke="#888" stroke-width="1"/>
<line x1="611.2" y1="798.2" x2="609.2" y2="798.2" stroke="#888" stroke-width="1"/>
<line x1="469.2" y1="834.1" x2="471.2" y2="834.1" stroke="#888" stroke-width="1"/>
<line x1="611.2" y1="834.1" x2="609.2" y2="834.1" stroke="#888" stroke-width="1"/>
<rect x="617.9" y="834.12" width="14.800000000000068" height="18.38" fill="#ffffff"/>
<rect x="617.9" y="816.15" width="14.800000000000068" height="18.38" fill="#e3eaf4"/>
<rect x="617.9" y="798.17" width="14.800000000000068" height="18.38" fill="#c9daec"/>
<rect x="617.9" y="780.20" width="14.800000000000068" height="18.38" fill="#a9c6e1"/>
<rect x="617.9" y="762.23" width="14.800000000000068" height="18.38" fill="#8cb2d6"/>
<rect x="617.9" y="744.25" width="14.800000000000068" height="18.38" fill="#6d9dca"/>
<rect x="617.9" y="726.27" width="14.800000000000068" height="18.38" fill="#4f88bd"/>
<rect x="617.9" y="708.30" width="14.800000000000068" height="18.38" fill="#3170ae"/>
<rect x="617.9" y="708.3" width="14.800000000000068" height="143.80000000000007" fill="none" stroke="#8c8c8c" stroke-width="1.2"/>
<line x1="632.7" y1="852.1" x2="630.2" y2="852.1" stroke="#777" stroke-width="1"/>
<text x="638.2" y="857.2" font-size="15.5" font-weight="normal" font-style="normal" fill="#111" text-anchor="start" >0</text>
<line x1="632.7" y1="811.0" x2="630.2" y2="811.0" stroke="#777" stroke-width="1"/>
<text x="638.2" y="815.1" font-size="15.5" font-weight="normal" font-style="normal" fill="#111" text-anchor="start" >2</text>
<line x1="632.7" y1="769.9" x2="630.2" y2="769.9" stroke="#777" stroke-width="1"/>
<text x="638.2" y="773.0" font-size="15.5" font-weight="normal" font-style="normal" fill="#111" text-anchor="start" >4</text>
<line x1="632.7" y1="728.8" x2="630.2" y2="728.8" stroke="#777" stroke-width="1"/>
<text x="638.2" y="730.9" font-size="15.5" font-weight="normal" font-style="normal" fill="#111" text-anchor="start" >6</text>
<text x="545" y="697" font-size="15" fill="#111"><tspan font-weight="bold" font-style="italic">A</tspan><tspan font-size="11.5" dy="3">1</tspan></text>
<rect x="667.70" y="707.50" width="35.75" height="36.30" fill="#4f88bd"/>
<rect x="703.05" y="707.50" width="35.75" height="36.30" fill="#3170ae"/>
<rect x="738.40" y="707.50" width="35.75" height="36.30" fill="#6d9dca"/>
<rect x="773.75" y="707.50" width="35.75" height="36.30" fill="#a9c6e1"/>
<rect x="667.70" y="743.40" width="35.75" height="36.30" fill="#3170ae"/>
<rect x="703.05" y="743.40" width="35.75" height="36.30" fill="#a9c6e1"/>
<rect x="738.40" y="743.40" width="35.75" height="36.30" fill="#a9c6e1"/>
<rect x="773.75" y="743.40" width="35.75" height="36.30" fill="#ffffff"/>
<rect x="667.70" y="779.30" width="35.75" height="36.30" fill="#3170ae"/>
<rect x="703.05" y="779.30" width="35.75" height="36.30" fill="#3170ae"/>
<rect x="738.40" y="779.30" width="35.75" height="36.30" fill="#3170ae"/>
<rect x="773.75" y="779.30" width="35.75" height="36.30" fill="#e3eaf4"/>
<rect x="667.70" y="815.20" width="35.75" height="36.30" fill="#3170ae"/>
<rect x="703.05" y="815.20" width="35.75" height="36.30" fill="#e3eaf4"/>
<rect x="738.40" y="815.20" width="35.75" height="36.30" fill="#a9c6e1"/>
<rect x="773.75" y="815.20" width="35.75" height="36.30" fill="#a9c6e1"/>
<text x="685.4" y="731.2" font-size="16.5" font-weight="normal" font-style="normal" fill="#0f1a2a" text-anchor="middle" >6</text>
<text x="720.7" y="731.2" font-size="16.5" font-weight="normal" font-style="normal" fill="#0f1a2a" text-anchor="middle" >7</text>
<text x="756.1" y="731.2" font-size="16.5" font-weight="normal" font-style="normal" fill="#0f1a2a" text-anchor="middle" >5</text>
<text x="791.4" y="731.2" font-size="16.5" font-weight="normal" font-style="normal" fill="#111" text-anchor="middle" >3</text>
<text x="685.4" y="767.1" font-size="16.5" font-weight="normal" font-style="normal" fill="#0f1a2a" text-anchor="middle" >7</text>
<text x="720.7" y="767.1" font-size="16.5" font-weight="normal" font-style="normal" fill="#111" text-anchor="middle" >3</text>
<text x="756.1" y="767.1" font-size="16.5" font-weight="normal" font-style="normal" fill="#111" text-anchor="middle" >3</text>
<text x="791.4" y="767.1" font-size="16.5" font-weight="normal" font-style="normal" fill="#111" text-anchor="middle" >0</text>
<text x="685.4" y="803.0" font-size="16.5" font-weight="normal" font-style="normal" fill="#0f1a2a" text-anchor="middle" >7</text>
<text x="720.7" y="803.0" font-size="16.5" font-weight="normal" font-style="normal" fill="#0f1a2a" text-anchor="middle" >7</text>
<text x="756.1" y="803.0" font-size="16.5" font-weight="normal" font-style="normal" fill="#0f1a2a" text-anchor="middle" >7</text>
<text x="791.4" y="803.0" font-size="16.5" font-weight="normal" font-style="normal" fill="#111" text-anchor="middle" >1</text>
<text x="685.4" y="838.9" font-size="16.5" font-weight="normal" font-style="normal" fill="#0f1a2a" text-anchor="middle" >7</text>
<text x="720.7" y="838.9" font-size="16.5" font-weight="normal" font-style="normal" fill="#111" text-anchor="middle" >1</text>
<text x="756.1" y="838.9" font-size="16.5" font-weight="normal" font-style="normal" fill="#111" text-anchor="middle" >3</text>
<text x="791.4" y="838.9" font-size="16.5" font-weight="normal" font-style="normal" fill="#111" text-anchor="middle" >3</text>
<rect x="667.7" y="707.5" width="141.39999999999998" height="143.60000000000002" fill="none" stroke="#8c8c8c" stroke-width="1.2"/>
<line x1="685.4" y1="851.1" x2="685.4" y2="849.1" stroke="#888" stroke-width="1"/>
<line x1="685.4" y1="707.5" x2="685.4" y2="709.5" stroke="#888" stroke-width="1"/>
<line x1="720.7" y1="851.1" x2="720.7" y2="849.1" stroke="#888" stroke-width="1"/>
<line x1="720.7" y1="707.5" x2="720.7" y2="709.5" stroke="#888" stroke-width="1"/>
<line x1="756.1" y1="851.1" x2="756.1" y2="849.1" stroke="#888" stroke-width="1"/>
<line x1="756.1" y1="707.5" x2="756.1" y2="709.5" stroke="#888" stroke-width="1"/>
<line x1="791.4" y1="851.1" x2="791.4" y2="849.1" stroke="#888" stroke-width="1"/>
<line x1="791.4" y1="707.5" x2="791.4" y2="709.5" stroke="#888" stroke-width="1"/>
<line x1="667.7" y1="725.5" x2="669.7" y2="725.5" stroke="#888" stroke-width="1"/>
<line x1="809.1" y1="725.5" x2="807.1" y2="725.5" stroke="#888" stroke-width="1"/>
<line x1="667.7" y1="761.4" x2="669.7" y2="761.4" stroke="#888" stroke-width="1"/>
<line x1="809.1" y1="761.4" x2="807.1" y2="761.4" stroke="#888" stroke-width="1"/>
<line x1="667.7" y1="797.2" x2="669.7" y2="797.2" stroke="#888" stroke-width="1"/>
<line x1="809.1" y1="797.2" x2="807.1" y2="797.2" stroke="#888" stroke-width="1"/>
<line x1="667.7" y1="833.1" x2="669.7" y2="833.1" stroke="#888" stroke-width="1"/>
<line x1="809.1" y1="833.1" x2="807.1" y2="833.1" stroke="#888" stroke-width="1"/>
<rect x="815.8" y="833.15" width="14.900000000000091" height="18.35" fill="#ffffff"/>
<rect x="815.8" y="815.20" width="14.900000000000091" height="18.35" fill="#e3eaf4"/>
<rect x="815.8" y="797.25" width="14.900000000000091" height="18.35" fill="#c9daec"/>
<rect x="815.8" y="779.30" width="14.900000000000091" height="18.35" fill="#a9c6e1"/>
<rect x="815.8" y="761.35" width="14.900000000000091" height="18.35" fill="#8cb2d6"/>
<rect x="815.8" y="743.40" width="14.900000000000091" height="18.35" fill="#6d9dca"/>
<rect x="815.8" y="725.45" width="14.900000000000091" height="18.35" fill="#4f88bd"/>
<rect x="815.8" y="707.50" width="14.900000000000091" height="18.35" fill="#3170ae"/>
<rect x="815.8" y="707.5" width="14.900000000000091" height="143.60000000000002" fill="none" stroke="#8c8c8c" stroke-width="1.2"/>
<line x1="830.7" y1="851.1" x2="828.2" y2="851.1" stroke="#777" stroke-width="1"/>
<text x="837.2" y="856.2" font-size="15.5" font-weight="normal" font-style="normal" fill="#111" text-anchor="start" >0</text>
<line x1="830.7" y1="810.1" x2="828.2" y2="810.1" stroke="#777" stroke-width="1"/>
<text x="837.2" y="814.1" font-size="15.5" font-weight="normal" font-style="normal" fill="#111" text-anchor="start" >2</text>
<line x1="830.7" y1="769.0" x2="828.2" y2="769.0" stroke="#777" stroke-width="1"/>
<text x="837.2" y="772.0" font-size="15.5" font-weight="normal" font-style="normal" fill="#111" text-anchor="start" >4</text>
<line x1="830.7" y1="728.0" x2="828.2" y2="728.0" stroke="#777" stroke-width="1"/>
<text x="837.2" y="729.9" font-size="15.5" font-weight="normal" font-style="normal" fill="#111" text-anchor="start" >6</text>
<text x="739" y="697" font-size="15" fill="#111"><tspan font-weight="bold" font-style="italic">A</tspan><tspan font-size="11.5" dy="3">2</tspan></text>
<rect x="869.20" y="705.50" width="38.85" height="37.05" fill="#6d9dca"/>
<rect x="907.65" y="705.50" width="38.85" height="37.05" fill="#e3eaf4"/>
<rect x="946.10" y="705.50" width="38.85" height="37.05" fill="#c9daec"/>
<rect x="984.55" y="705.50" width="38.85" height="37.05" fill="#e3eaf4"/>
<rect x="869.20" y="742.15" width="38.85" height="37.05" fill="#3170ae"/>
<rect x="907.65" y="742.15" width="38.85" height="37.05" fill="#e3eaf4"/>
<rect x="946.10" y="742.15" width="38.85" height="37.05" fill="#ffffff"/>
<rect x="984.55" y="742.15" width="38.85" height="37.05" fill="#a9c6e1"/>
<rect x="869.20" y="778.80" width="38.85" height="37.05" fill="#ffffff"/>
<rect x="907.65" y="778.80" width="38.85" height="37.05" fill="#6d9dca"/>
<rect x="946.10" y="778.80" width="38.85" height="37.05" fill="#4f88bd"/>
<rect x="984.55" y="778.80" width="38.85" height="37.05" fill="#8cb2d6"/>
<rect x="869.20" y="815.45" width="38.85" height="37.05" fill="#e3eaf4"/>
<rect x="907.65" y="815.45" width="38.85" height="37.05" fill="#a9c6e1"/>
<rect x="946.10" y="815.45" width="38.85" height="37.05" fill="#c9daec"/>
<rect x="984.55" y="815.45" width="38.85" height="37.05" fill="#4f88bd"/>
<text x="888.4" y="729.6" font-size="16.5" font-weight="normal" font-style="normal" fill="#0f1a2a" text-anchor="middle" >5</text>
<text x="926.9" y="729.6" font-size="16.5" font-weight="normal" font-style="normal" fill="#111" text-anchor="middle" >1</text>
<text x="965.3" y="729.6" font-size="16.5" font-weight="normal" font-style="normal" fill="#111" text-anchor="middle" >2</text>
<text x="1003.8" y="729.6" font-size="16.5" font-weight="normal" font-style="normal" fill="#111" text-anchor="middle" >1</text>
<text x="888.4" y="766.3" font-size="16.5" font-weight="normal" font-style="normal" fill="#0f1a2a" text-anchor="middle" >7</text>
<text x="926.9" y="766.3" font-size="16.5" font-weight="normal" font-style="normal" fill="#111" text-anchor="middle" >1</text>
<text x="965.3" y="766.3" font-size="16.5" font-weight="normal" font-style="normal" fill="#111" text-anchor="middle" >0</text>
<text x="1003.8" y="766.3" font-size="16.5" font-weight="normal" font-style="normal" fill="#111" text-anchor="middle" >3</text>
<text x="888.4" y="802.9" font-size="16.5" font-weight="normal" font-style="normal" fill="#111" text-anchor="middle" >0</text>
<text x="926.9" y="802.9" font-size="16.5" font-weight="normal" font-style="normal" fill="#0f1a2a" text-anchor="middle" >5</text>
<text x="965.3" y="802.9" font-size="16.5" font-weight="normal" font-style="normal" fill="#0f1a2a" text-anchor="middle" >6</text>
<text x="1003.8" y="802.9" font-size="16.5" font-weight="normal" font-style="normal" fill="#111" text-anchor="middle" >4</text>
<text x="888.4" y="839.6" font-size="16.5" font-weight="normal" font-style="normal" fill="#111" text-anchor="middle" >1</text>
<text x="926.9" y="839.6" font-size="16.5" font-weight="normal" font-style="normal" fill="#111" text-anchor="middle" >3</text>
<text x="965.3" y="839.6" font-size="16.5" font-weight="normal" font-style="normal" fill="#111" text-anchor="middle" >2</text>
<text x="1003.8" y="839.6" font-size="16.5" font-weight="normal" font-style="normal" fill="#0f1a2a" text-anchor="middle" >6</text>
<rect x="869.2" y="705.5" width="153.79999999999995" height="146.60000000000002" fill="none" stroke="#8c8c8c" stroke-width="1.2"/>
<line x1="888.4" y1="852.1" x2="888.4" y2="850.1" stroke="#888" stroke-width="1"/>
<line x1="888.4" y1="705.5" x2="888.4" y2="707.5" stroke="#888" stroke-width="1"/>
<line x1="926.9" y1="852.1" x2="926.9" y2="850.1" stroke="#888" stroke-width="1"/>
<line x1="926.9" y1="705.5" x2="926.9" y2="707.5" stroke="#888" stroke-width="1"/>
<line x1="965.3" y1="852.1" x2="965.3" y2="850.1" stroke="#888" stroke-width="1"/>
<line x1="965.3" y1="705.5" x2="965.3" y2="707.5" stroke="#888" stroke-width="1"/>
<line x1="1003.8" y1="852.1" x2="1003.8" y2="850.1" stroke="#888" stroke-width="1"/>
<line x1="1003.8" y1="705.5" x2="1003.8" y2="707.5" stroke="#888" stroke-width="1"/>
<line x1="869.2" y1="723.8" x2="871.2" y2="723.8" stroke="#888" stroke-width="1"/>
<line x1="1023" y1="723.8" x2="1021" y2="723.8" stroke="#888" stroke-width="1"/>
<line x1="869.2" y1="760.5" x2="871.2" y2="760.5" stroke="#888" stroke-width="1"/>
<line x1="1023" y1="760.5" x2="1021" y2="760.5" stroke="#888" stroke-width="1"/>
<line x1="869.2" y1="797.1" x2="871.2" y2="797.1" stroke="#888" stroke-width="1"/>
<line x1="1023" y1="797.1" x2="1021" y2="797.1" stroke="#888" stroke-width="1"/>
<line x1="869.2" y1="833.8" x2="871.2" y2="833.8" stroke="#888" stroke-width="1"/>
<line x1="1023" y1="833.8" x2="1021" y2="833.8" stroke="#888" stroke-width="1"/>
<rect x="1030" y="833.77" width="16.40000000000009" height="18.73" fill="#ffffff"/>
<rect x="1030" y="815.45" width="16.40000000000009" height="18.73" fill="#e3eaf4"/>
<rect x="1030" y="797.12" width="16.40000000000009" height="18.73" fill="#c9daec"/>
<rect x="1030" y="778.80" width="16.40000000000009" height="18.73" fill="#a9c6e1"/>
<rect x="1030" y="760.48" width="16.40000000000009" height="18.73" fill="#8cb2d6"/>
<rect x="1030" y="742.15" width="16.40000000000009" height="18.73" fill="#6d9dca"/>
<rect x="1030" y="723.83" width="16.40000000000009" height="18.73" fill="#4f88bd"/>
<rect x="1030" y="705.50" width="16.40000000000009" height="18.73" fill="#3170ae"/>
<rect x="1030" y="705.5" width="16.40000000000009" height="146.60000000000002" fill="none" stroke="#8c8c8c" stroke-width="1.2"/>
<line x1="1046.4" y1="852.1" x2="1043.9" y2="852.1" stroke="#777" stroke-width="1"/>
<text x="1052.5" y="857.2" font-size="15.5" font-weight="normal" font-style="normal" fill="#111" text-anchor="start" >0</text>
<line x1="1046.4" y1="810.2" x2="1043.9" y2="810.2" stroke="#777" stroke-width="1"/>
<text x="1052.5" y="815.1" font-size="15.5" font-weight="normal" font-style="normal" fill="#111" text-anchor="start" >2</text>
<line x1="1046.4" y1="768.3" x2="1043.9" y2="768.3" stroke="#777" stroke-width="1"/>
<text x="1052.5" y="773.0" font-size="15.5" font-weight="normal" font-style="normal" fill="#111" text-anchor="start" >4</text>
<line x1="1046.4" y1="726.4" x2="1043.9" y2="726.4" stroke="#777" stroke-width="1"/>
<text x="1052.5" y="730.9" font-size="15.5" font-weight="normal" font-style="normal" fill="#111" text-anchor="start" >6</text>
<text x="951.5" y="697" font-size="15" fill="#111"><tspan font-weight="bold" font-style="italic">A</tspan><tspan font-size="11.5" dy="3">3</tspan></text>
<text x="18.5" y="875.3" font-size="25" font-weight="bold" font-style="normal" fill="#111" text-anchor="start" >e</text>
<rect x="97.5" y="870.4" width="146.8" height="133.70000000000005" fill="#fff" stroke="#8c8c8c" stroke-width="1.2"/>
<line x1="112.2" y1="1004.1" x2="112.2" y2="1001.6" stroke="#888" stroke-width="1"/>
<line x1="112.2" y1="870.4" x2="112.2" y2="872.9" stroke="#888" stroke-width="1"/>
<line x1="97.5" y1="990.7" x2="100.0" y2="990.7" stroke="#888" stroke-width="1"/>
<line x1="244.3" y1="990.7" x2="241.8" y2="990.7" stroke="#888" stroke-width="1"/>
<line x1="170.9" y1="1004.1" x2="170.9" y2="1001.6" stroke="#888" stroke-width="1"/>
<line x1="170.9" y1="870.4" x2="170.9" y2="872.9" stroke="#888" stroke-width="1"/>
<line x1="97.5" y1="937.2" x2="100.0" y2="937.2" stroke="#888" stroke-width="1"/>
<line x1="244.3" y1="937.2" x2="241.8" y2="937.2" stroke="#888" stroke-width="1"/>
<line x1="229.6" y1="1004.1" x2="229.6" y2="1001.6" stroke="#888" stroke-width="1"/>
<line x1="229.6" y1="870.4" x2="229.6" y2="872.9" stroke="#888" stroke-width="1"/>
<line x1="97.5" y1="883.8" x2="100.0" y2="883.8" stroke="#888" stroke-width="1"/>
<line x1="244.3" y1="883.8" x2="241.8" y2="883.8" stroke="#888" stroke-width="1"/>
<line x1="97.5" y1="1004.1" x2="244.3" y2="870.4" stroke="#555" stroke-width="1" stroke-dasharray="6 4"/>
<circle cx="137.2" cy="963.1" r="5.6" fill="#d8141c" stroke="#b01018" stroke-width="0.6"/>
<circle cx="181.7" cy="926.5" r="5.6" fill="#d8141c" stroke="#b01018" stroke-width="0.6"/>
<circle cx="215.5" cy="889" r="5.6" fill="#d8141c" stroke="#b01018" stroke-width="0.6"/>
<circle cx="218" cy="888" r="5.6" fill="#d8141c" stroke="#b01018" stroke-width="0.6"/>
<text x="91.0" y="889.6" font-size="16" font-weight="normal" font-style="normal" fill="#111" text-anchor="end" >0.2</text>
<text x="91.0" y="943.0" font-size="16" font-weight="normal" font-style="normal" fill="#111" text-anchor="end" >0</text>
<text x="91.0" y="996.5" font-size="16" font-weight="normal" font-style="normal" fill="#111" text-anchor="end" >-0.2</text>
<text x="109.7" y="1023.9" font-size="16" font-weight="normal" font-style="normal" fill="#111" text-anchor="middle" >-0.2</text>
<text x="170.9" y="1023.9" font-size="16" font-weight="normal" font-style="normal" fill="#111" text-anchor="middle" >0</text>
<text x="229.6" y="1023.9" font-size="16" font-weight="normal" font-style="normal" fill="#111" text-anchor="middle" >0.2</text>
<text x="167.9" y="1043.3" font-size="16.3" font-weight="normal" font-style="normal" fill="#111" text-anchor="middle" >Ideal Output [V]</text>
<text x="0" y="0" font-size="16.2" font-weight="normal" font-style="normal" fill="#111" text-anchor="middle" transform="translate(59.0,931.25) rotate(-90)">Circuit Output [V]</text>
<text x="110.5" y="894.9" font-size="16" font-weight="normal" font-style="normal" fill="#111" text-anchor="start" >Cycle 1</text>
<text x="130" y="992" font-size="15.5" fill="#111">INV with <tspan font-weight="bold" font-style="italic">A</tspan><tspan font-size="11.5" dy="3">0</tspan></text>
<rect x="300.3" y="868.8" width="147.59999999999997" height="134.10000000000002" fill="#fff" stroke="#8c8c8c" stroke-width="1.2"/>
<line x1="315.1" y1="1002.9" x2="315.1" y2="1000.4" stroke="#888" stroke-width="1"/>
<line x1="315.1" y1="868.8" x2="315.1" y2="871.3" stroke="#888" stroke-width="1"/>
<line x1="300.3" y1="989.5" x2="302.8" y2="989.5" stroke="#888" stroke-width="1"/>
<line x1="447.9" y1="989.5" x2="445.4" y2="989.5" stroke="#888" stroke-width="1"/>
<line x1="374.1" y1="1002.9" x2="374.1" y2="1000.4" stroke="#888" stroke-width="1"/>
<line x1="374.1" y1="868.8" x2="374.1" y2="871.3" stroke="#888" stroke-width="1"/>
<line x1="300.3" y1="935.8" x2="302.8" y2="935.8" stroke="#888" stroke-width="1"/>
<line x1="447.9" y1="935.8" x2="445.4" y2="935.8" stroke="#888" stroke-width="1"/>
<line x1="433.1" y1="1002.9" x2="433.1" y2="1000.4" stroke="#888" stroke-width="1"/>
<line x1="433.1" y1="868.8" x2="433.1" y2="871.3" stroke="#888" stroke-width="1"/>
<line x1="300.3" y1="882.2" x2="302.8" y2="882.2" stroke="#888" stroke-width="1"/>
<line x1="447.9" y1="882.2" x2="445.4" y2="882.2" stroke="#888" stroke-width="1"/>
<line x1="300.3" y1="1002.9" x2="447.9" y2="868.8" stroke="#555" stroke-width="1" stroke-dasharray="6 4"/>
<circle cx="379.3" cy="933" r="5.6" fill="#d8141c" stroke="#b01018" stroke-width="0.6"/>
<circle cx="397.8" cy="898.9" r="5.6" fill="#d8141c" stroke="#b01018" stroke-width="0.6"/>
<circle cx="426.2" cy="883.7" r="5.6" fill="#d8141c" stroke="#b01018" stroke-width="0.6"/>
<circle cx="431" cy="884.4" r="5.6" fill="#d8141c" stroke="#b01018" stroke-width="0.6"/>
<text x="293.8" y="888.0" font-size="16" font-weight="normal" font-style="normal" fill="#111" text-anchor="end" >0.2</text>
<text x="293.8" y="941.6" font-size="16" font-weight="normal" font-style="normal" fill="#111" text-anchor="end" >0</text>
<text x="293.8" y="995.3" font-size="16" font-weight="normal" font-style="normal" fill="#111" text-anchor="end" >-0.2</text>
<text x="312.6" y="1022.6999999999999" font-size="16" font-weight="normal" font-style="normal" fill="#111" text-anchor="middle" >-0.2</text>
<text x="374.1" y="1022.6999999999999" font-size="16" font-weight="normal" font-style="normal" fill="#111" text-anchor="middle" >0</text>
<text x="433.1" y="1022.6999999999999" font-size="16" font-weight="normal" font-style="normal" fill="#111" text-anchor="middle" >0.2</text>
<text x="371.1" y="1042.1" font-size="16.3" font-weight="normal" font-style="normal" fill="#111" text-anchor="middle" >Ideal Output [V]</text>
<text x="0" y="0" font-size="16.2" font-weight="normal" font-style="normal" fill="#111" text-anchor="middle" transform="translate(261.8,929.8499999999999) rotate(-90)">Circuit Output [V]</text>
<text x="313.3" y="893.3" font-size="16" font-weight="normal" font-style="normal" fill="#111" text-anchor="start" >Cycle 2</text>
<rect x="503" y="869.3" width="146" height="134.0" fill="#fff" stroke="#8c8c8c" stroke-width="1.2"/>
<line x1="517.6" y1="1003.3" x2="517.6" y2="1000.8" stroke="#888" stroke-width="1"/>
<line x1="517.6" y1="869.3" x2="517.6" y2="871.8" stroke="#888" stroke-width="1"/>
<line x1="503" y1="989.9" x2="505.5" y2="989.9" stroke="#888" stroke-width="1"/>
<line x1="649" y1="989.9" x2="646.5" y2="989.9" stroke="#888" stroke-width="1"/>
<line x1="576.0" y1="1003.3" x2="576.0" y2="1000.8" stroke="#888" stroke-width="1"/>
<line x1="576.0" y1="869.3" x2="576.0" y2="871.8" stroke="#888" stroke-width="1"/>
<line x1="503" y1="936.3" x2="505.5" y2="936.3" stroke="#888" stroke-width="1"/>
<line x1="649" y1="936.3" x2="646.5" y2="936.3" stroke="#888" stroke-width="1"/>
<line x1="634.4" y1="1003.3" x2="634.4" y2="1000.8" stroke="#888" stroke-width="1"/>
<line x1="634.4" y1="869.3" x2="634.4" y2="871.8" stroke="#888" stroke-width="1"/>
<line x1="503" y1="882.7" x2="505.5" y2="882.7" stroke="#888" stroke-width="1"/>
<line x1="649" y1="882.7" x2="646.5" y2="882.7" stroke="#888" stroke-width="1"/>
<line x1="503" y1="1003.3" x2="649" y2="869.3" stroke="#555" stroke-width="1" stroke-dasharray="6 4"/>
<circle cx="571.2" cy="942.7" r="5.6" fill="#d8141c" stroke="#b01018" stroke-width="0.6"/>
<circle cx="576" cy="939" r="5.6" fill="#d8141c" stroke="#b01018" stroke-width="0.6"/>
<circle cx="595.3" cy="915.5" r="5.6" fill="#d8141c" stroke="#b01018" stroke-width="0.6"/>
<circle cx="627.3" cy="876.5" r="5.6" fill="#d8141c" stroke="#b01018" stroke-width="0.6"/>
<text x="496.5" y="888.5" font-size="16" font-weight="normal" font-style="normal" fill="#111" text-anchor="end" >0.2</text>
<text x="496.5" y="942.1" font-size="16" font-weight="normal" font-style="normal" fill="#111" text-anchor="end" >0</text>
<text x="496.5" y="995.7" font-size="16" font-weight="normal" font-style="normal" fill="#111" text-anchor="end" >-0.2</text>
<text x="515.1" y="1023.0999999999999" font-size="16" font-weight="normal" font-style="normal" fill="#111" text-anchor="middle" >-0.2</text>
<text x="576.0" y="1023.0999999999999" font-size="16" font-weight="normal" font-style="normal" fill="#111" text-anchor="middle" >0</text>
<text x="634.4" y="1023.0999999999999" font-size="16" font-weight="normal" font-style="normal" fill="#111" text-anchor="middle" >0.2</text>
<text x="573.0" y="1042.5" font-size="16.3" font-weight="normal" font-style="normal" fill="#111" text-anchor="middle" >Ideal Output [V]</text>
<text x="0" y="0" font-size="16.2" font-weight="normal" font-style="normal" fill="#111" text-anchor="middle" transform="translate(464.5,930.3) rotate(-90)">Circuit Output [V]</text>
<text x="516" y="893.8" font-size="16" font-weight="normal" font-style="normal" fill="#111" text-anchor="start" >Cycle 3</text>
<rect x="97.5" y="1050.5" width="146.8" height="134.79999999999995" fill="#fff" stroke="#8c8c8c" stroke-width="1.2"/>
<line x1="112.2" y1="1185.3" x2="112.2" y2="1182.8" stroke="#888" stroke-width="1"/>
<line x1="112.2" y1="1050.5" x2="112.2" y2="1053.0" stroke="#888" stroke-width="1"/>
<line x1="97.5" y1="1171.8" x2="100.0" y2="1171.8" stroke="#888" stroke-width="1"/>
<line x1="244.3" y1="1171.8" x2="241.8" y2="1171.8" stroke="#888" stroke-width="1"/>
<line x1="170.9" y1="1185.3" x2="170.9" y2="1182.8" stroke="#888" stroke-width="1"/>
<line x1="170.9" y1="1050.5" x2="170.9" y2="1053.0" stroke="#888" stroke-width="1"/>
<line x1="97.5" y1="1117.9" x2="100.0" y2="1117.9" stroke="#888" stroke-width="1"/>
<line x1="244.3" y1="1117.9" x2="241.8" y2="1117.9" stroke="#888" stroke-width="1"/>
<line x1="229.6" y1="1185.3" x2="229.6" y2="1182.8" stroke="#888" stroke-width="1"/>
<line x1="229.6" y1="1050.5" x2="229.6" y2="1053.0" stroke="#888" stroke-width="1"/>
<line x1="97.5" y1="1064.0" x2="100.0" y2="1064.0" stroke="#888" stroke-width="1"/>
<line x1="244.3" y1="1064.0" x2="241.8" y2="1064.0" stroke="#888" stroke-width="1"/>
<line x1="97.5" y1="1185.3" x2="244.3" y2="1050.5" stroke="#555" stroke-width="1" stroke-dasharray="6 4"/>
<circle cx="168.5" cy="1119" r="5.6" fill="#d8141c" stroke="#b01018" stroke-width="0.6"/>
<circle cx="175.7" cy="1111.8" r="5.6" fill="#d8141c" stroke="#b01018" stroke-width="0.6"/>
<circle cx="181.7" cy="1106.6" r="5.6" fill="#d8141c" stroke="#b01018" stroke-width="0.6"/>
<circle cx="173" cy="1115" r="5.6" fill="#d8141c" stroke="#b01018" stroke-width="0.6"/>
<text x="91.0" y="1069.8" font-size="16" font-weight="normal" font-style="normal" fill="#111" text-anchor="end" >0.2</text>
<text x="91.0" y="1123.7" font-size="16" font-weight="normal" font-style="normal" fill="#111" text-anchor="end" >0</text>
<text x="91.0" y="1177.6" font-size="16" font-weight="normal" font-style="normal" fill="#111" text-anchor="end" >-0.2</text>
<text x="109.7" y="1205.1" font-size="16" font-weight="normal" font-style="normal" fill="#111" text-anchor="middle" >-0.2</text>
<text x="170.9" y="1205.1" font-size="16" font-weight="normal" font-style="normal" fill="#111" text-anchor="middle" >0</text>
<text x="229.6" y="1205.1" font-size="16" font-weight="normal" font-style="normal" fill="#111" text-anchor="middle" >0.2</text>
<text x="167.9" y="1224.5" font-size="16.3" font-weight="normal" font-style="normal" fill="#111" text-anchor="middle" >Ideal Output [V]</text>
<text x="0" y="0" font-size="16.2" font-weight="normal" font-style="normal" fill="#111" text-anchor="middle" transform="translate(59.0,1111.9) rotate(-90)">Circuit Output [V]</text>
<text x="110.5" y="1075.0" font-size="16" font-weight="normal" font-style="normal" fill="#111" text-anchor="start" >Cycle 1</text>
<text x="128.8" y="1173.2" font-size="15.5" fill="#111">MVM with <tspan font-weight="bold" font-style="italic">A</tspan></text>
<rect x="299.8" y="1050.5" width="146.39999999999998" height="134.79999999999995" fill="#fff" stroke="#8c8c8c" stroke-width="1.2"/>
<line x1="314.4" y1="1185.3" x2="314.4" y2="1182.8" stroke="#888" stroke-width="1"/>
<line x1="314.4" y1="1050.5" x2="314.4" y2="1053.0" stroke="#888" stroke-width="1"/>
<line x1="299.8" y1="1171.8" x2="302.3" y2="1171.8" stroke="#888" stroke-width="1"/>
<line x1="446.2" y1="1171.8" x2="443.7" y2="1171.8" stroke="#888" stroke-width="1"/>
<line x1="373.0" y1="1185.3" x2="373.0" y2="1182.8" stroke="#888" stroke-width="1"/>
<line x1="373.0" y1="1050.5" x2="373.0" y2="1053.0" stroke="#888" stroke-width="1"/>
<line x1="299.8" y1="1117.9" x2="302.3" y2="1117.9" stroke="#888" stroke-width="1"/>
<line x1="446.2" y1="1117.9" x2="443.7" y2="1117.9" stroke="#888" stroke-width="1"/>
<line x1="431.6" y1="1185.3" x2="431.6" y2="1182.8" stroke="#888" stroke-width="1"/>
<line x1="431.6" y1="1050.5" x2="431.6" y2="1053.0" stroke="#888" stroke-width="1"/>
<line x1="299.8" y1="1064.0" x2="302.3" y2="1064.0" stroke="#888" stroke-width="1"/>
<line x1="446.2" y1="1064.0" x2="443.7" y2="1064.0" stroke="#888" stroke-width="1"/>
<line x1="299.8" y1="1185.3" x2="446.2" y2="1050.5" stroke="#555" stroke-width="1" stroke-dasharray="6 4"/>
<circle cx="385.3" cy="1107" r="5.6" fill="#d8141c" stroke="#b01018" stroke-width="0.6"/>
<circle cx="394.9" cy="1098.1" r="5.6" fill="#d8141c" stroke="#b01018" stroke-width="0.6"/>
<circle cx="401.4" cy="1092.1" r="5.6" fill="#d8141c" stroke="#b01018" stroke-width="0.6"/>
<text x="293.3" y="1069.8" font-size="16" font-weight="normal" font-style="normal" fill="#111" text-anchor="end" >0.2</text>
<text x="293.3" y="1123.7" font-size="16" font-weight="normal" font-style="normal" fill="#111" text-anchor="end" >0</text>
<text x="293.3" y="1177.6" font-size="16" font-weight="normal" font-style="normal" fill="#111" text-anchor="end" >-0.2</text>
<text x="311.9" y="1205.1" font-size="16" font-weight="normal" font-style="normal" fill="#111" text-anchor="middle" >-0.2</text>
<text x="373.0" y="1205.1" font-size="16" font-weight="normal" font-style="normal" fill="#111" text-anchor="middle" >0</text>
<text x="431.6" y="1205.1" font-size="16" font-weight="normal" font-style="normal" fill="#111" text-anchor="middle" >0.2</text>
<text x="370.0" y="1224.5" font-size="16.3" font-weight="normal" font-style="normal" fill="#111" text-anchor="middle" >Ideal Output [V]</text>
<text x="0" y="0" font-size="16.2" font-weight="normal" font-style="normal" fill="#111" text-anchor="middle" transform="translate(261.3,1111.9) rotate(-90)">Circuit Output [V]</text>
<text x="312.8" y="1075.0" font-size="16" font-weight="normal" font-style="normal" fill="#111" text-anchor="start" >Cycle 2</text>
<rect x="503" y="1049.3" width="145.20000000000005" height="134.79999999999995" fill="#fff" stroke="#8c8c8c" stroke-width="1.2"/>
<line x1="517.5" y1="1184.1" x2="517.5" y2="1181.6" stroke="#888" stroke-width="1"/>
<line x1="517.5" y1="1049.3" x2="517.5" y2="1051.8" stroke="#888" stroke-width="1"/>
<line x1="503" y1="1170.6" x2="505.5" y2="1170.6" stroke="#888" stroke-width="1"/>
<line x1="648.2" y1="1170.6" x2="645.7" y2="1170.6" stroke="#888" stroke-width="1"/>
<line x1="575.6" y1="1184.1" x2="575.6" y2="1181.6" stroke="#888" stroke-width="1"/>
<line x1="575.6" y1="1049.3" x2="575.6" y2="1051.8" stroke="#888" stroke-width="1"/>
<line x1="503" y1="1116.7" x2="505.5" y2="1116.7" stroke="#888" stroke-width="1"/>
<line x1="648.2" y1="1116.7" x2="645.7" y2="1116.7" stroke="#888" stroke-width="1"/>
<line x1="633.7" y1="1184.1" x2="633.7" y2="1181.6" stroke="#888" stroke-width="1"/>
<line x1="633.7" y1="1049.3" x2="633.7" y2="1051.8" stroke="#888" stroke-width="1"/>
<line x1="503" y1="1062.8" x2="505.5" y2="1062.8" stroke="#888" stroke-width="1"/>
<line x1="648.2" y1="1062.8" x2="645.7" y2="1062.8" stroke="#888" stroke-width="1"/>
<line x1="503" y1="1184.1" x2="648.2" y2="1049.3" stroke="#555" stroke-width="1" stroke-dasharray="6 4"/>
<circle cx="585.6" cy="1106.6" r="5.6" fill="#d8141c" stroke="#b01018" stroke-width="0.6"/>
<circle cx="584" cy="1107.5" r="5.6" fill="#d8141c" stroke="#b01018" stroke-width="0.6"/>
<text x="496.5" y="1068.6" font-size="16" font-weight="normal" font-style="normal" fill="#111" text-anchor="end" >0.2</text>
<text x="496.5" y="1122.5" font-size="16" font-weight="normal" font-style="normal" fill="#111" text-anchor="end" >0</text>
<text x="496.5" y="1176.4" font-size="16" font-weight="normal" font-style="normal" fill="#111" text-anchor="end" >-0.2</text>
<text x="515.0" y="1203.8999999999999" font-size="16" font-weight="normal" font-style="normal" fill="#111" text-anchor="middle" >-0.2</text>
<text x="575.6" y="1203.8999999999999" font-size="16" font-weight="normal" font-style="normal" fill="#111" text-anchor="middle" >0</text>
<text x="633.7" y="1203.8999999999999" font-size="16" font-weight="normal" font-style="normal" fill="#111" text-anchor="middle" >0.2</text>
<text x="572.6" y="1223.3" font-size="16.3" font-weight="normal" font-style="normal" fill="#111" text-anchor="middle" >Ideal Output [V]</text>
<text x="0" y="0" font-size="16.2" font-weight="normal" font-style="normal" fill="#111" text-anchor="middle" transform="translate(464.5,1110.6999999999998) rotate(-90)">Circuit Output [V]</text>
<text x="516" y="1073.8" font-size="16" font-weight="normal" font-style="normal" fill="#111" text-anchor="start" >Cycle 3</text>
<text x="660" y="884" font-size="25" font-weight="bold" font-style="normal" fill="#111" text-anchor="start" >f</text>
<rect x="748" y="880.5" width="316.29999999999995" height="296.5" fill="#fff" stroke="#8c8c8c" stroke-width="1.2"/>
<line x1="748" y1="1103.8" x2="1064.3" y2="1103.8" stroke="#8c8c8c" stroke-width="1.3"/>
<line x1="803.6" y1="880.5" x2="803.6" y2="883.0" stroke="#888" stroke-width="1"/>
<line x1="803.6" y1="1177" x2="803.6" y2="1174.5" stroke="#888" stroke-width="1"/>
<line x1="872.2" y1="880.5" x2="872.2" y2="883.0" stroke="#888" stroke-width="1"/>
<line x1="872.2" y1="1177" x2="872.2" y2="1174.5" stroke="#888" stroke-width="1"/>
<line x1="940.5" y1="880.5" x2="940.5" y2="883.0" stroke="#888" stroke-width="1"/>
<line x1="940.5" y1="1177" x2="940.5" y2="1174.5" stroke="#888" stroke-width="1"/>
<line x1="1008.3" y1="880.5" x2="1008.3" y2="883.0" stroke="#888" stroke-width="1"/>
<line x1="1008.3" y1="1177" x2="1008.3" y2="1174.5" stroke="#888" stroke-width="1"/>
<line x1="748" y1="955.6" x2="750.5" y2="955.6" stroke="#888" stroke-width="1"/>
<line x1="1064.3" y1="955.6" x2="1061.8" y2="955.6" stroke="#888" stroke-width="1"/>
<line x1="748" y1="1029.9" x2="750.5" y2="1029.9" stroke="#888" stroke-width="1"/>
<line x1="1064.3" y1="1029.9" x2="1061.8" y2="1029.9" stroke="#888" stroke-width="1"/>
<line x1="748" y1="1126.6" x2="750.5" y2="1126.6" stroke="#888" stroke-width="1"/>
<line x1="1064.3" y1="1126.6" x2="1061.8" y2="1126.6" stroke="#888" stroke-width="1"/>
<rect x="781.8" y="927" width="12.6" height="176.8" fill="#0f6db5" stroke="#0b4a80" stroke-width="0.8"/>
<rect x="796.9" y="1103.8" width="12.8" height="25.2" fill="#d65218" stroke="#3a3a3a" stroke-width="0.8"/>
<rect x="812.4" y="1103.8" width="12.2" height="42.5" fill="#ebb021" stroke="#3a3a3a" stroke-width="0.8"/>
<rect x="850.5" y="937.8" width="12.6" height="166.0" fill="#0f6db5" stroke="#0b4a80" stroke-width="0.8"/>
<rect x="865.7" y="967.4" width="12.6" height="136.4" fill="#d65218" stroke="#3a3a3a" stroke-width="0.8"/>
<rect x="880.8" y="1016.3" width="12.4" height="87.5" fill="#ebb021" stroke="#3a3a3a" stroke-width="0.8"/>
<rect x="919" y="1017.7" width="12.7" height="86.1" fill="#0f6db5" stroke="#0b4a80" stroke-width="0.8"/>
<rect x="933.7" y="1103.8" width="12.9" height="60.9" fill="#d65218" stroke="#3a3a3a" stroke-width="0.8"/>
<rect x="949" y="1103.8" width="12.4" height="22.4" fill="#ebb021" stroke="#3a3a3a" stroke-width="0.8"/>
<rect x="987.3" y="926" width="13.3" height="177.8" fill="#0f6db5" stroke="#0b4a80" stroke-width="0.8"/>
<rect x="1003" y="999.4" width="12.2" height="104.4" fill="#d65218" stroke="#3a3a3a" stroke-width="0.8"/>
<rect x="1017.9" y="1052.6" width="12.8" height="51.2" fill="#ebb021" stroke="#3a3a3a" stroke-width="0.8"/>
<rect x="867.1" y="889" width="111.5" height="70.6" fill="#fff" stroke="#8c8c8c" stroke-width="1.1"/>
<rect x="871.2" y="893.4" width="38.7" height="16.7" fill="#0f6db5" stroke="#444" stroke-width="0.8"/>
<text x="917" y="907.7" font-size="15.8" font-weight="normal" font-style="normal" fill="#111" text-anchor="start" >Cycle 1</text>
<rect x="871.2" y="916.1" width="38.7" height="16.7" fill="#d65218" stroke="#444" stroke-width="0.8"/>
<text x="917" y="930.4" font-size="15.8" font-weight="normal" font-style="normal" fill="#111" text-anchor="start" >Cycle 2</text>
<rect x="871.2" y="938.9" width="38.7" height="16.7" fill="#ebb021" stroke="#444" stroke-width="0.8"/>
<text x="917" y="953.2" font-size="15.8" font-weight="normal" font-style="normal" fill="#111" text-anchor="start" >Cycle 3</text>
<text x="743" y="894" font-size="15.8" fill="#111" text-anchor="end">10<tspan font-size="11" dy="-7">-1</tspan></text>
<text x="743" y="961.7" font-size="15.8" fill="#111" text-anchor="end">10<tspan font-size="11" dy="-7">-2</tspan></text>
<text x="743" y="1040" font-size="15.8" fill="#111" text-anchor="end">10<tspan font-size="11" dy="-7">-3</tspan></text>
<text x="743" y="1103.6" font-size="15.8" fill="#111" text-anchor="end">10<tspan font-size="11" dy="-7">-4</tspan></text>
<text x="743" y="1129.6" font-size="15.8" fill="#111" text-anchor="end">-10<tspan font-size="11" dy="-7">-4</tspan></text>
<text x="743" y="1181.6" font-size="15.8" fill="#111" text-anchor="end">-10<tspan font-size="11" dy="-7">-3</tspan></text>
<text transform="translate(692.5,1030) rotate(-90)" text-anchor="middle" font-size="16" fill="#111" font-weight="bold"><tspan font-style="italic">x</tspan><tspan font-size="11" dy="4" font-style="italic">i</tspan><tspan font-size="11" dy="-12">*</tspan><tspan dy="8" font-weight="normal"> - </tspan><tspan font-style="italic">x</tspan><tspan font-size="11" dy="4" font-style="italic">i</tspan><tspan font-size="11" dy="-12" font-weight="normal">(cycle)</tspan></text>
<text x="797" y="1198.9" font-size="16" fill="#111"><tspan font-weight="bold" font-style="italic">x</tspan><tspan font-size="11.5" dy="4">1</tspan></text>
<text x="868" y="1198.9" font-size="16" fill="#111"><tspan font-weight="bold" font-style="italic">x</tspan><tspan font-size="11.5" dy="4">2</tspan></text>
<text x="935.4" y="1198.9" font-size="16" fill="#111"><tspan font-weight="bold" font-style="italic">x</tspan><tspan font-size="11.5" dy="4">3</tspan></text>
<text x="1003.6" y="1198.9" font-size="16" fill="#111"><tspan font-weight="bold" font-style="italic">x</tspan><tspan font-size="11.5" dy="4">4</tspan></text>
<path d="M804.6,974.9 Q822,1005 828.7,1049" fill="none" stroke="#1b2a44" stroke-width="3"/>
<polygon points="822.2,1049.4 835.2,1049.4 828.7,1062.4" fill="#1b2a44"/>
<path d="M881.4,969.8 Q897,984 900.7,1001" fill="none" stroke="#1b2a44" stroke-width="3"/>
<polygon points="895.3,1000.6 908.3,1000.6 901.8,1013.6" fill="#1b2a44"/>
<path d="M937,1003.4 Q955,1030 960.8,1079" fill="none" stroke="#1b2a44" stroke-width="3"/>
<polygon points="954.3,1079 967.3,1079 960.8,1092" fill="#1b2a44"/>
<path d="M1016.4,958.6 Q1036,990 1040.3,1034" fill="none" stroke="#1b2a44" stroke-width="3"/>
<polygon points="1033.8,1033.2 1046.8,1033.2 1040.3,1046.2" fill="#1b2a44"/>
</svg></body></html>
